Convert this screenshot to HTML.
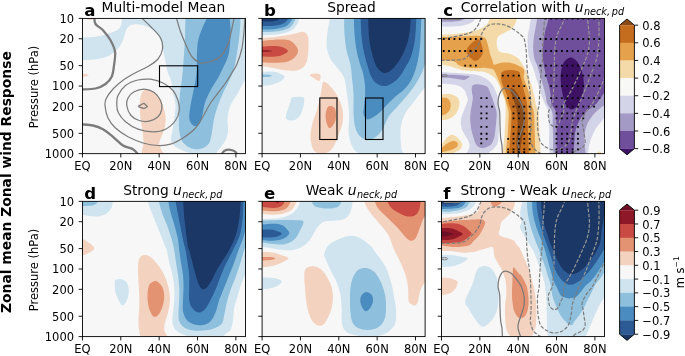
<!DOCTYPE html><html><head><meta charset="utf-8"><title>Zonal mean zonal wind response</title>
<style>html,body{margin:0;padding:0;background:#fff}svg{display:block}text{font-family:"DejaVu Sans","Liberation Sans",sans-serif;fill:#000}</style></head><body>
<svg width="685" height="356" viewBox="0 0 685 356">
<rect width="685" height="356" fill="#fff"/>
<defs>
<clipPath id="cp0"><rect x="82.45" y="18.4" width="163.0" height="135.25"/></clipPath>
<clipPath id="cp1"><rect x="262.1" y="18.4" width="163.0" height="135.25"/></clipPath>
<clipPath id="cp2"><rect x="441.5" y="18.4" width="163.0" height="135.25"/></clipPath>
<clipPath id="cp3"><rect x="82.45" y="201.35" width="163.0" height="135.25"/></clipPath>
<clipPath id="cp4"><rect x="262.1" y="201.35" width="163.0" height="135.25"/></clipPath>
<clipPath id="cp5"><rect x="441.5" y="201.35" width="163.0" height="135.25"/></clipPath>
</defs>
<g clip-path="url(#cp0)">
<rect x="82.45" y="18.4" width="163.0" height="135.25" fill="#f7f7f7"/>
<path d="M79.2 37.8C81.5 37.6 89.0 37.4 93.0 37.0C97.0 36.6 99.7 36.1 103.0 35.2C106.3 34.4 110.5 33.0 113.0 32.0C115.5 31.0 116.7 30.6 118.0 29.5C119.3 28.4 120.2 27.6 121.0 25.2C121.8 22.9 122.2 16.9 122.5 15.2L253.0 15.2L248.0 76.8C247.2 77.9 244.7 80.8 243.0 83.5C241.3 86.2 240.1 89.3 238.0 93.0C235.9 96.7 232.2 101.3 230.5 105.5C228.8 109.7 227.9 113.8 227.5 118.0C227.1 122.2 228.3 126.8 228.0 130.5C227.7 134.2 227.0 137.4 225.5 140.5C224.0 143.6 221.1 146.8 219.2 149.2C217.4 151.8 215.1 154.5 214.2 155.5L198.0 155.5C195.9 154.9 189.2 153.2 185.5 151.8C181.8 150.3 177.9 148.6 175.5 146.8C173.1 144.9 171.5 143.2 171.0 140.5C170.5 137.8 172.0 134.2 172.5 130.5C173.0 126.8 173.8 122.2 174.2 118.0C174.8 113.8 175.7 109.7 175.5 105.5C175.3 101.3 173.8 97.2 173.0 93.0C172.2 88.8 171.9 84.1 171.0 80.5C170.1 76.9 168.5 75.1 167.5 71.5C166.5 67.9 165.8 62.8 165.0 59.0C164.2 55.2 163.6 51.9 163.0 49.0C162.4 46.1 162.2 43.8 161.2 41.5C160.3 39.2 159.1 37.3 157.5 35.2C155.9 33.2 154.0 30.6 151.8 29.0C149.5 27.4 146.8 26.3 144.2 25.5C141.8 24.7 139.0 24.3 136.8 24.2C134.5 24.2 132.2 24.5 130.5 25.2C128.8 26.0 127.8 27.3 126.8 29.0C125.8 30.7 125.2 33.2 124.5 35.2C123.8 37.3 123.4 39.5 122.5 41.5C121.6 43.5 120.5 45.3 119.2 47.0C118.0 48.7 116.7 50.1 115.0 51.5C113.3 52.9 111.7 54.3 109.2 55.5C106.8 56.7 103.6 57.8 100.5 58.5C97.4 59.2 94.0 59.5 90.5 59.8C87.0 60.0 81.1 60.2 79.2 60.2Z" fill="#cfe4ef"/>
<path d="M185.5 15.2C185.4 19.2 185.2 33.0 185.0 39.0C184.8 45.0 184.6 46.7 184.2 51.5C183.9 56.3 183.4 63.2 183.0 68.0C182.6 72.8 182.2 76.3 181.8 80.5C181.2 84.7 180.4 88.8 180.0 93.0C179.6 97.2 179.5 101.3 179.2 105.5C179.0 109.7 178.8 113.8 178.8 118.0C178.8 122.2 178.8 126.8 179.2 130.5C179.8 134.2 180.3 137.8 181.8 140.5C183.2 143.2 185.7 145.3 188.0 146.8C190.3 148.2 193.0 149.0 195.5 149.2C198.0 149.5 200.7 149.0 203.0 148.0C205.3 147.0 207.8 145.5 209.2 143.0C210.7 140.5 210.9 137.2 211.8 133.0C212.6 128.8 213.2 122.6 214.2 118.0C215.3 113.4 216.5 109.7 218.0 105.5C219.5 101.3 221.1 97.2 223.0 93.0C224.9 88.8 227.4 84.7 229.2 80.5C231.1 76.3 232.8 73.7 234.2 68.0C235.7 62.3 237.0 53.0 238.0 46.5C239.0 40.0 239.6 34.2 240.0 29.0C240.4 23.8 240.4 17.5 240.5 15.2Z" fill="#8ebfdc"/>
<path d="M208.5 15.2C207.6 17.1 204.7 22.5 203.0 26.5C201.3 30.5 199.5 34.8 198.5 39.0C197.5 43.2 197.3 46.7 197.0 51.5C196.7 56.3 197.0 63.2 196.8 68.0C196.5 72.8 196.1 76.3 195.5 80.5C194.9 84.7 193.8 88.8 193.0 93.0C192.2 97.2 191.1 101.3 190.5 105.5C189.9 109.7 189.0 114.9 189.2 118.0C189.5 121.1 190.7 122.9 191.8 124.2C192.8 125.6 194.2 126.0 195.5 126.0C196.8 126.0 198.2 125.6 199.2 124.2C200.3 122.9 200.9 121.1 201.8 118.0C202.6 114.9 203.4 108.8 204.2 105.5C205.1 102.2 205.5 100.9 206.8 98.0C208.0 95.1 209.9 91.3 211.8 88.0C213.6 84.7 216.1 81.3 218.0 78.0C219.9 74.7 221.3 71.6 223.0 68.0C224.7 64.4 226.8 60.5 228.0 56.5C229.2 52.5 229.6 48.6 230.0 44.0C230.4 39.4 230.6 33.8 230.5 29.0C230.4 24.2 229.5 17.5 229.2 15.2Z" fill="#4b8cc0"/>
<path d="M145.5 89.2C143.4 89.7 142.0 92.3 141.0 95.0C140.0 97.7 139.8 101.7 139.8 105.5C139.7 109.3 140.0 113.8 140.5 118.0C141.0 122.2 142.0 126.3 142.5 130.5C143.0 134.7 143.4 138.8 143.5 143.0C143.6 147.2 139.7 153.4 143.0 155.5C146.3 157.6 160.4 156.3 163.5 155.5C166.6 154.7 162.5 152.6 161.8 150.5C161.0 148.4 159.0 145.9 159.2 143.0C159.5 140.1 162.0 136.3 163.0 133.0C164.0 129.7 165.2 126.3 165.5 123.0C165.8 119.7 165.8 116.7 165.0 113.0C164.2 109.3 162.9 104.5 161.0 101.0C159.1 97.5 156.1 94.2 153.5 92.2C150.9 90.3 147.6 88.8 145.5 89.2Z" fill="#f3d3bf"/>
<path d="M81.8 74.5C82.4 74.1 84.4 73.9 85.5 74.0C86.6 74.1 88.5 74.8 88.5 75.2C88.5 75.7 86.6 76.3 85.5 76.5C84.4 76.7 82.4 76.8 81.8 76.5C81.1 76.2 81.1 74.9 81.8 74.5Z" fill="#f3d3bf"/>
<path d="M94.2 16.5C94.5 17.8 94.0 21.7 95.5 24.0C97.0 26.3 100.5 27.5 103.0 30.2C105.5 33.0 108.5 36.7 110.5 40.2C112.5 43.8 114.4 47.5 115.0 51.5C115.6 55.5 114.8 59.8 114.2 64.0C113.7 68.2 113.2 73.2 111.8 76.5C110.3 79.8 108.2 82.0 105.5 84.0C102.8 86.0 99.7 87.6 95.5 88.5C91.3 89.4 83.0 89.3 80.5 89.5" fill="none" stroke="#7c7c7c" stroke-width="2.3" stroke-linejoin="round"/>
<path d="M80.5 124.2C82.6 124.5 89.2 124.7 93.0 125.5C96.8 126.3 99.7 127.4 103.0 129.2C106.3 131.1 109.7 134.0 113.0 136.8C116.3 139.5 119.7 143.4 123.0 145.5C126.3 147.6 130.3 147.6 133.0 149.2C135.7 150.9 138.2 154.5 139.2 155.5" fill="none" stroke="#7c7c7c" stroke-width="2.3" stroke-linejoin="round"/>
<path d="M221.0 155.5C221.5 154.8 222.7 152.0 224.2 151.0C225.8 150.0 228.6 149.6 230.5 149.8C232.4 149.9 234.3 150.8 235.5 151.8C236.7 152.7 237.2 154.9 237.5 155.5" fill="none" stroke="#7c7c7c" stroke-width="2.3" stroke-linejoin="round"/>
<path d="M140.0 16.5C141.8 18.2 147.1 23.0 150.5 26.5C153.9 30.0 158.5 34.0 160.5 37.8C162.5 41.5 162.9 45.5 162.5 49.0C162.1 52.5 160.4 56.1 158.0 59.0C155.6 61.9 151.8 64.2 148.0 66.5C144.2 68.8 139.7 70.5 135.5 72.8C131.3 75.0 126.8 77.5 123.0 80.2C119.2 83.0 115.8 85.9 113.0 89.0C110.2 92.1 107.3 96.2 106.0 99.0C104.7 101.8 104.7 102.3 105.0 105.5C105.3 108.7 106.2 114.2 108.0 118.0C109.8 121.8 112.2 124.9 115.5 128.0C118.8 131.1 123.4 134.2 128.0 136.8C132.6 139.2 138.0 141.5 143.0 143.0C148.0 144.5 153.4 145.3 158.0 145.5C162.6 145.7 166.3 145.5 170.5 144.2C174.7 143.0 178.8 140.7 183.0 138.0C187.2 135.3 192.1 131.8 195.5 128.0C198.9 124.2 201.0 119.7 203.5 115.5C206.0 111.3 208.1 106.8 210.5 103.0C212.9 99.2 215.5 96.3 218.0 93.0C220.5 89.7 223.2 86.2 225.5 83.0C227.8 79.8 229.6 76.7 231.5 73.5C233.4 70.3 235.3 68.1 237.0 64.0C238.7 59.9 240.6 54.0 241.8 49.0C242.9 44.0 243.2 39.4 243.8 34.0C244.3 28.6 244.8 19.4 245.0 16.5" fill="none" stroke="#7c7c7c" stroke-width="1.25" stroke-linejoin="round"/>
<path d="M176.0 16.5C176.8 19.0 178.9 26.9 180.5 31.5C182.1 36.1 183.6 39.8 185.5 44.0C187.4 48.2 189.2 53.4 191.8 56.5C194.2 59.6 197.4 61.9 200.5 62.8C203.6 63.6 207.2 62.5 210.5 61.5C213.8 60.5 217.6 59.4 220.5 56.5C223.4 53.6 226.1 48.6 228.0 44.0C229.9 39.4 230.7 33.6 231.8 29.0C232.8 24.4 234.0 18.6 234.5 16.5" fill="none" stroke="#7c7c7c" stroke-width="1.25" stroke-linejoin="round"/>
<path d="M116.8 105.5C116.7 102.6 116.5 98.8 118.0 95.5C119.5 92.2 122.2 88.1 125.5 85.5C128.8 82.9 133.8 81.0 138.0 80.0C142.2 79.0 146.3 78.8 150.5 79.2C154.7 79.8 159.2 81.1 163.0 83.0C166.8 84.9 170.5 87.6 173.0 90.5C175.5 93.4 177.0 97.2 178.0 100.5C179.0 103.8 179.7 107.2 179.2 110.5C178.8 113.8 177.8 117.4 175.5 120.5C173.2 123.6 169.2 127.4 165.5 129.2C161.8 131.1 157.6 131.8 153.0 131.8C148.4 131.8 142.6 130.9 138.0 129.2C133.4 127.6 128.8 124.5 125.5 121.8C122.2 119.0 120.0 115.7 118.5 113.0C117.0 110.3 116.8 108.4 116.8 105.5Z" fill="none" stroke="#7c7c7c" stroke-width="1.25" stroke-linejoin="round"/>
<path d="M126.8 105.5C126.2 102.6 126.8 100.3 128.0 98.0C129.2 95.7 131.5 93.2 134.2 91.8C137.0 90.3 140.9 89.1 144.2 89.2C147.6 89.4 151.5 90.6 154.2 92.5C157.0 94.4 159.2 97.7 160.5 100.5C161.8 103.3 162.2 106.5 161.8 109.2C161.3 112.0 160.1 114.8 158.0 116.8C155.9 118.8 152.4 120.6 149.2 121.2C146.1 121.9 142.3 121.5 139.2 120.5C136.2 119.5 133.1 118.0 131.0 115.5C128.9 113.0 127.2 108.4 126.8 105.5Z" fill="none" stroke="#7c7c7c" stroke-width="1.25" stroke-linejoin="round"/>
<path d="M138.4 106.1L143.9 103.3L147.4 106.5L144.2 108.6L139.6 107.2Z" fill="none" stroke="#7c7c7c" stroke-width="1.25" stroke-linejoin="round"/>
<ellipse cx="90" cy="18.6" rx="3.2" ry="1.3" fill="#f3d3bf"/>
<rect x="159.5" y="65.8" width="38.2" height="20.8" fill="none" stroke="#000" stroke-width="1.1"/>
</g>
<path d="M82.45 153.65v3.8M120.80 153.65v3.8M159.16 153.65v3.8M197.51 153.65v3.8M235.86 153.65v3.8M82.45 18.40h-3.8M82.45 38.76h-3.8M82.45 65.67h-3.8M82.45 86.03h-3.8M82.45 106.38h-3.8M82.45 133.29h-3.8M82.45 153.65h-3.8" stroke="#000" stroke-width="0.9" fill="none"/>
<rect x="82.45" y="18.4" width="163.0" height="135.25" fill="none" stroke="#000" stroke-width="0.9"/>
<text x="82.45" y="169.85" font-size="11.5" text-anchor="middle">EQ</text>
<text x="120.80" y="169.85" font-size="11.5" text-anchor="middle">20N</text>
<text x="159.16" y="169.85" font-size="11.5" text-anchor="middle">40N</text>
<text x="197.51" y="169.85" font-size="11.5" text-anchor="middle">60N</text>
<text x="235.86" y="169.85" font-size="11.5" text-anchor="middle">80N</text>
<text x="74.05" y="22.70" font-size="11.5" text-anchor="end">10</text>
<text x="74.05" y="43.06" font-size="11.5" text-anchor="end">20</text>
<text x="74.05" y="69.97" font-size="11.5" text-anchor="end">50</text>
<text x="74.05" y="90.33" font-size="11.5" text-anchor="end">100</text>
<text x="74.05" y="110.68" font-size="11.5" text-anchor="end">200</text>
<text x="74.05" y="137.59" font-size="11.5" text-anchor="end">500</text>
<text x="74.05" y="157.95" font-size="11.5" text-anchor="end">1000</text>
<text transform="translate(38.0 87.03) rotate(-90)" font-size="11.5" text-anchor="middle">Pressure (hPa)</text>
<g clip-path="url(#cp1)">
<rect x="262.1" y="18.4" width="163.0" height="135.25" fill="#f7f7f7"/>
<path d="M258.0 35.0C260.1 35.0 266.4 35.3 270.6 35.0C274.9 34.7 279.6 34.2 283.3 33.2C287.0 32.3 290.4 31.1 292.8 29.4C295.2 27.7 296.7 25.3 297.8 23.1C298.9 21.0 299.1 17.6 299.4 16.5L258.0 16.5Z" fill="#cfe4ef"/>
<path d="M258.0 31.8C259.9 31.9 265.6 32.1 269.4 32.0C273.2 31.8 277.4 31.4 280.8 30.7C284.1 30.0 287.3 29.1 289.6 27.7C291.9 26.2 293.4 23.7 294.4 21.8C295.4 20.0 295.5 17.4 295.7 16.5L258.0 16.5Z" fill="#8ebfdc"/>
<path d="M258.0 29.3C259.7 29.3 264.7 29.7 268.1 29.6C271.5 29.4 275.2 29.1 278.2 28.5C281.3 28.0 284.3 27.3 286.5 26.0C288.6 24.7 290.1 22.5 291.1 21.0C292.1 19.4 292.2 17.3 292.4 16.5L258.0 16.5Z" fill="#4b8cc0"/>
<path d="M258.0 25.8C259.5 25.8 263.9 26.2 266.9 26.1C269.8 26.1 273.0 26.1 275.7 25.6C278.4 25.2 281.3 24.5 283.3 23.5C285.3 22.5 286.8 20.9 287.7 19.7C288.6 18.5 288.6 17.1 288.7 16.5L258.0 16.5Z" fill="#2b5a94"/>
<path d="M258.0 21.2C259.3 21.3 263.1 21.6 265.6 21.6C268.1 21.6 271.1 21.6 273.2 21.3C275.3 21.1 276.9 20.9 278.2 20.1C279.6 19.3 280.9 17.1 281.4 16.5L258.0 16.5Z" fill="#1b3766"/>
<path d="M258.0 38.3C259.7 38.2 264.7 37.9 268.1 37.6C271.5 37.4 274.9 37.0 278.2 36.5C281.6 36.1 285.2 35.6 288.4 35.0C291.5 34.4 294.9 33.5 297.2 33.0C299.5 32.4 300.8 31.7 302.3 31.7C303.7 31.7 305.0 32.2 306.1 33.2C307.1 34.3 307.9 36.0 308.3 38.0C308.7 40.0 308.5 43.0 308.5 45.2C308.5 47.5 308.5 48.8 308.2 51.5C308.0 54.2 307.6 58.8 306.8 61.5C305.9 64.2 304.9 66.0 303.0 67.5C301.1 69.0 298.8 70.3 295.5 70.8C292.2 71.2 286.8 70.5 283.0 70.0C279.2 69.5 277.0 68.8 273.0 68.0C269.0 67.2 261.5 65.9 259.2 65.5Z" fill="#f3d3bf"/>
<path d="M259.2 41.2C262.4 41.0 273.0 39.7 278.0 39.5C283.0 39.3 286.3 39.3 289.2 40.2C292.2 41.2 294.0 43.5 295.5 45.2C297.0 47.0 298.0 49.1 298.0 51.0C298.0 52.9 297.0 54.8 295.5 56.5C294.0 58.2 292.2 60.0 289.2 61.0C286.3 62.0 283.0 62.6 278.0 62.8C273.0 62.9 262.4 62.1 259.2 62.0Z" fill="#e39272"/>
<path d="M259.2 46.8C261.5 46.6 269.2 46.0 273.0 46.0C276.8 46.0 279.2 46.2 281.8 47.0C284.2 47.8 288.0 49.6 288.0 51.0C288.0 52.4 284.2 54.3 281.8 55.2C279.2 56.2 276.8 56.5 273.0 56.8C269.2 57.0 261.5 56.5 259.2 56.5Z" fill="#c84a42"/>
<path d="M259.2 50.2C260.7 50.2 265.9 50.1 268.0 50.2C270.1 50.4 272.0 50.8 272.0 51.0C272.0 51.2 270.1 51.6 268.0 51.8C265.9 51.9 260.7 51.8 259.2 51.8Z" fill="#8e1728"/>
<path d="M259.2 72.0C261.5 71.9 269.2 71.1 273.0 71.5C276.8 71.9 279.8 73.5 281.8 74.5C283.7 75.5 284.9 76.0 284.5 77.2C284.1 78.5 281.8 80.7 279.2 82.0C276.7 83.3 272.6 84.6 269.2 85.2C265.9 85.9 260.9 85.7 259.2 85.8Z" fill="#cfe4ef"/>
<path d="M259.2 74.8C260.7 74.7 265.9 74.3 268.0 74.5C270.1 74.7 272.0 75.3 272.0 75.8C272.0 76.2 270.1 76.8 268.0 77.0C265.9 77.2 260.7 77.0 259.2 77.0Z" fill="#8ebfdc"/>
<path d="M309.8 74.8C310.2 73.9 315.0 73.4 316.8 73.5C318.5 73.6 320.1 74.0 320.5 75.2C320.9 76.5 320.3 80.5 319.2 81.0C318.2 81.5 315.8 79.5 314.2 78.5C312.7 77.5 309.3 75.6 309.8 74.8Z" fill="#f3d3bf"/>
<path d="M330.5 15.2C330.1 17.5 328.6 25.0 328.0 29.0C327.4 33.0 326.9 35.7 326.8 39.0C326.6 42.3 326.4 45.7 327.0 49.0C327.6 52.3 328.8 55.8 330.5 59.0C332.2 62.2 335.2 64.8 337.5 68.0C339.8 71.2 342.7 73.8 344.2 78.0C345.8 82.2 346.0 88.4 346.8 93.0C347.5 97.6 348.1 101.3 348.5 105.5C348.9 109.7 349.2 113.8 349.2 118.0C349.2 122.2 348.4 126.8 348.5 130.5C348.6 134.2 349.2 137.6 350.0 140.5C350.8 143.4 351.7 145.9 353.0 148.0C354.3 150.1 355.9 151.8 358.0 153.0C360.1 154.2 358.0 155.1 365.5 155.5C373.0 155.9 397.0 156.3 403.0 155.5C409.0 154.7 402.2 153.4 401.8 150.5C401.3 147.6 400.6 142.2 400.5 138.0C400.4 133.8 400.2 129.7 401.0 125.5C401.8 121.3 403.5 116.8 405.5 113.0C407.5 109.2 410.5 106.3 413.0 103.0C415.5 99.7 418.0 96.1 420.5 93.0C423.0 89.9 426.8 85.7 428.0 84.2L430.5 15.2Z" fill="#cfe4ef"/>
<path d="M344.2 15.2C344.2 17.5 344.1 25.0 344.2 29.0C344.4 33.0 344.6 35.2 345.0 39.0C345.4 42.8 345.8 47.2 346.8 51.5C347.7 55.8 349.6 60.2 350.5 65.0C351.4 69.8 351.8 75.8 352.2 80.5C352.8 85.2 353.3 88.8 353.5 93.0C353.7 97.2 353.5 101.3 353.5 105.5C353.5 109.7 353.4 114.2 353.8 118.0C354.1 121.8 354.6 125.1 355.5 128.0C356.4 130.9 357.6 133.6 359.2 135.5C360.9 137.4 363.0 138.8 365.5 139.2C368.0 139.7 371.5 139.5 374.2 138.0C377.0 136.5 379.9 133.0 381.8 130.5C383.6 128.0 384.2 125.5 385.5 123.0C386.8 120.5 387.7 117.8 389.2 115.5C390.8 113.2 393.1 111.3 395.0 109.2C396.9 107.2 398.5 105.2 400.5 103.0C402.5 100.8 404.2 99.1 406.8 96.0C409.2 92.9 413.0 88.1 415.5 84.2C418.0 80.4 420.0 76.8 421.8 73.0C423.5 69.2 424.5 65.1 426.0 61.5C427.5 57.9 429.8 59.2 430.5 51.5C431.2 43.8 430.5 21.3 430.5 15.2Z" fill="#8ebfdc"/>
<path d="M353.8 15.2C353.8 17.5 354.0 25.0 354.2 29.0C354.5 33.0 354.6 35.2 355.0 39.0C355.4 42.8 355.9 47.3 356.8 51.5C357.6 55.7 359.0 60.4 360.0 64.0C361.0 67.6 362.2 69.4 363.0 73.0C363.8 76.6 364.7 81.3 365.0 85.5C365.3 89.7 365.2 94.2 365.0 98.0C364.8 101.8 364.0 105.3 363.8 108.0C363.5 110.7 363.0 112.4 363.5 114.2C364.0 116.1 365.4 118.6 366.8 119.2C368.1 119.9 369.7 119.0 371.8 118.0C373.8 117.0 376.6 115.3 379.2 113.0C381.9 110.7 384.7 107.1 387.5 104.2C390.3 101.4 393.3 98.4 396.0 96.0C398.7 93.6 401.0 92.6 403.5 90.0C406.0 87.4 408.9 84.2 411.0 80.5C413.1 76.8 414.7 72.4 416.0 68.0C417.3 63.6 418.2 58.8 419.0 54.0C419.8 49.2 420.1 45.5 420.5 39.0C420.9 32.5 421.3 19.2 421.5 15.2Z" fill="#4b8cc0"/>
<path d="M360.5 15.2C360.7 19.2 361.0 32.1 361.8 39.0C362.5 45.9 363.9 51.5 365.0 56.5C366.1 61.5 367.5 65.6 368.5 69.0C369.5 72.4 370.0 74.4 371.2 76.8C372.5 79.1 374.0 81.5 376.0 83.0C378.0 84.5 380.6 85.8 383.0 86.0C385.4 86.2 387.9 85.6 390.5 84.2C393.1 82.9 396.1 80.7 398.5 78.0C400.9 75.3 402.9 71.6 405.0 68.0C407.1 64.4 409.3 61.3 411.0 56.5C412.7 51.7 414.1 45.9 415.0 39.0C415.9 32.1 416.2 19.2 416.5 15.2Z" fill="#2b5a94"/>
<path d="M368.0 15.2C368.2 19.2 368.5 32.5 369.2 39.0C370.0 45.5 371.0 49.4 372.2 54.0C373.5 58.6 374.6 63.4 376.5 66.5C378.4 69.6 381.1 72.1 383.5 72.8C385.9 73.4 388.2 72.5 391.0 70.2C393.8 68.0 397.6 63.4 400.2 59.0C402.9 54.6 405.4 49.0 407.0 44.0C408.6 39.0 409.3 33.8 410.0 29.0C410.7 24.2 410.8 17.5 411.0 15.2Z" fill="#1b3766"/>
<path d="M323.5 81.8C322.2 82.2 322.3 85.3 321.8 88.0C321.2 90.7 320.8 94.2 320.0 98.0C319.2 101.8 318.0 106.3 316.8 110.5C315.5 114.7 313.5 118.8 312.5 123.0C311.5 127.2 310.6 131.8 310.5 135.5C310.4 139.2 311.0 142.8 311.8 145.5C312.5 148.2 313.5 150.4 315.0 151.8C316.5 153.1 318.7 153.3 320.5 153.5C322.3 153.7 324.2 153.6 326.0 153.0C327.8 152.4 329.4 151.7 331.0 150.0C332.6 148.3 334.1 145.8 335.5 143.0C336.9 140.2 338.1 136.3 339.2 133.0C340.4 129.7 341.9 126.3 342.5 123.0C343.1 119.7 343.3 116.3 343.0 113.0C342.7 109.7 341.8 106.3 340.5 103.0C339.2 99.7 337.4 96.0 335.5 93.0C333.6 90.0 331.2 86.9 329.2 85.0C327.2 83.1 324.8 81.2 323.5 81.8Z" fill="#f3d3bf"/>
<path d="M329.2 106.0C330.5 105.7 333.1 106.1 334.2 107.5C335.4 108.9 335.9 111.9 336.0 114.2C336.1 116.6 335.9 119.5 335.0 121.8C334.1 124.0 331.8 127.4 330.5 128.0C329.2 128.6 328.3 127.4 327.5 125.5C326.7 123.6 325.6 119.5 325.5 116.8C325.4 114.0 326.1 111.0 326.8 109.2C327.4 107.5 328.0 106.3 329.2 106.0Z" fill="#e39272"/>
<path d="M293.0 97.2C294.8 96.8 299.9 96.4 301.8 96.8C303.6 97.1 304.0 97.4 304.2 99.2C304.5 101.1 303.8 105.1 303.0 108.0C302.2 110.9 300.9 114.7 299.2 116.8C297.6 118.8 295.1 120.1 293.0 120.5C290.9 120.9 287.9 120.1 286.8 119.2C285.6 118.4 285.6 117.8 286.0 115.5C286.4 113.2 288.4 108.2 289.2 105.5C290.1 102.8 290.4 100.6 291.0 99.2C291.6 97.9 291.2 97.7 293.0 97.2Z" fill="#cfe4ef"/>
<rect x="319.8" y="98.0" width="17.2" height="41.5" fill="none" stroke="#000" stroke-width="1.1"/>
<rect x="365.5" y="98.0" width="17.5" height="41.5" fill="none" stroke="#000" stroke-width="1.1"/>
</g>
<path d="M262.10 153.65v3.8M300.45 153.65v3.8M338.81 153.65v3.8M377.16 153.65v3.8M415.51 153.65v3.8M262.10 18.40h-3.8M262.10 38.76h-3.8M262.10 65.67h-3.8M262.10 86.03h-3.8M262.10 106.38h-3.8M262.10 133.29h-3.8M262.10 153.65h-3.8" stroke="#000" stroke-width="0.9" fill="none"/>
<rect x="262.1" y="18.4" width="163.0" height="135.25" fill="none" stroke="#000" stroke-width="0.9"/>
<text x="262.10" y="169.85" font-size="11.5" text-anchor="middle">EQ</text>
<text x="300.45" y="169.85" font-size="11.5" text-anchor="middle">20N</text>
<text x="338.81" y="169.85" font-size="11.5" text-anchor="middle">40N</text>
<text x="377.16" y="169.85" font-size="11.5" text-anchor="middle">60N</text>
<text x="415.51" y="169.85" font-size="11.5" text-anchor="middle">80N</text>
<g clip-path="url(#cp2)">
<rect x="441.5" y="18.4" width="163.0" height="135.25" fill="#f7f7f7"/>
<path d="M438.0 34.9C440.1 34.8 446.4 34.6 450.6 34.2C454.9 33.9 459.1 33.6 463.3 33.0C467.5 32.3 472.4 31.5 475.9 30.4C479.5 29.4 482.7 28.1 484.8 26.6C486.9 25.2 487.6 23.5 488.6 21.6C489.5 19.7 490.2 16.3 490.5 15.3L517.7 15.3C517.3 16.7 516.2 21.8 515.1 24.1C514.1 26.4 513.2 27.7 511.4 29.2C509.5 30.7 506.0 31.7 503.8 33.0C501.6 34.2 499.2 35.3 498.1 36.8C496.9 38.2 496.9 39.9 496.8 41.8C496.7 43.7 496.9 46.5 497.4 48.1C498.0 49.8 498.3 51.1 500.0 51.9C501.7 52.8 505.2 52.6 507.6 53.2C509.9 53.8 512.0 54.8 513.9 55.7C515.8 56.7 517.1 56.8 518.9 59.0C520.8 61.3 523.4 66.0 525.1 69.1C526.7 72.3 527.7 75.0 528.9 78.0C530.0 80.9 531.1 83.7 532.0 86.8C533.0 90.0 533.9 94.1 534.5 96.9C535.2 99.8 535.2 101.5 535.8 104.0C536.4 106.5 537.8 108.6 538.3 112.0C538.9 115.4 538.8 120.4 539.0 124.6C539.2 128.9 539.4 133.5 539.6 137.3C539.8 141.1 540.0 144.4 540.2 147.4C540.4 150.5 540.8 154.3 540.9 155.6L502.2 155.6C502.4 154.5 502.8 151.7 503.1 148.7C503.5 145.6 504.1 141.3 504.4 137.3C504.7 133.3 504.8 128.9 505.0 124.6C505.2 120.4 505.7 116.0 505.7 112.0C505.7 108.0 505.5 103.5 505.0 100.7C504.6 98.0 503.8 97.3 503.1 95.7C502.5 94.1 502.0 93.1 501.2 91.2C500.5 89.4 499.8 86.5 498.7 84.3C497.7 82.1 496.6 79.8 494.9 78.0C493.2 76.2 490.9 74.6 488.6 73.5C486.3 72.5 484.0 72.1 481.0 71.6C478.0 71.2 474.3 71.3 470.9 71.0C467.5 70.7 464.1 70.5 460.8 69.7C457.4 69.0 454.4 67.6 450.6 66.6C446.9 65.6 440.1 64.3 438.0 63.8Z" fill="#f4daa8"/>
<path d="M438.0 37.0C441.2 37.0 450.6 37.0 457.0 36.8C463.3 36.6 471.7 35.8 475.9 35.8C480.2 35.8 480.6 36.2 482.3 36.8C484.0 37.4 485.1 37.8 486.1 39.3C487.0 40.8 487.3 43.3 488.0 45.6C488.6 47.9 489.1 50.7 489.9 53.2C490.6 55.8 491.9 59.0 492.6 60.9C493.4 62.8 492.8 64.4 494.3 64.7C495.7 65.0 498.6 63.1 501.2 62.8C503.9 62.5 507.3 62.4 510.1 62.8C512.8 63.2 515.4 64.2 517.7 65.3C520.0 66.5 523.0 67.6 524.0 69.7C525.0 71.9 523.3 75.1 523.8 78.0C524.3 80.8 525.9 83.7 527.0 86.8C528.0 90.0 529.4 94.1 530.1 96.9C530.9 99.8 530.7 101.5 531.4 104.0C532.0 106.5 533.4 108.6 533.9 112.0C534.4 115.4 534.4 120.4 534.5 124.6C534.7 128.9 534.8 133.5 534.9 137.3C535.0 141.1 535.0 144.4 535.2 147.4C535.3 150.5 535.7 154.3 535.8 155.6L505.7 155.6C505.8 154.5 506.0 151.7 506.3 148.7C506.6 145.6 507.2 141.3 507.6 137.3C507.9 133.3 508.0 128.9 508.2 124.6C508.4 120.4 509.0 116.0 508.6 112.0C508.1 108.0 506.6 104.1 505.7 100.7C504.7 97.4 503.7 94.6 502.8 91.9C501.8 89.1 501.1 86.6 500.2 84.3C499.4 82.0 498.5 80.0 497.7 78.0C496.9 76.0 496.0 73.8 495.2 72.3C494.3 70.8 494.2 69.9 492.6 69.1C491.1 68.4 488.8 68.0 486.1 67.9C483.3 67.7 479.1 68.3 475.9 68.2C472.8 68.2 469.8 68.0 467.1 67.6C464.3 67.2 461.6 66.6 459.5 65.6C457.4 64.6 456.8 62.4 454.4 61.5C452.1 60.6 448.3 60.5 445.6 60.3C442.8 60.0 439.3 60.1 438.0 60.0Z" fill="#e6a14c"/>
<path d="M479.7 39.9C478.8 39.2 477.4 39.3 475.9 39.9C474.5 40.6 472.4 42.1 470.9 43.7C469.4 45.3 467.4 47.6 466.8 49.4C466.3 51.2 467.0 53.0 467.7 54.5C468.4 55.9 469.7 57.2 470.9 58.3C472.0 59.3 473.4 60.6 474.7 60.8C475.9 61.0 477.3 60.4 478.5 59.5C479.6 58.7 480.9 57.2 481.6 55.7C482.4 54.3 482.9 52.6 482.9 50.7C482.9 48.8 482.2 46.1 481.6 44.4C481.1 42.6 480.7 40.7 479.7 39.9Z" fill="#c46d1f"/>
<path d="M501.2 72.9C501.9 72.5 503.3 71.1 505.0 70.6C506.7 70.2 509.0 70.0 511.4 70.1C513.7 70.3 517.5 70.8 518.9 71.6C520.4 72.5 519.5 73.3 520.0 75.0C520.5 76.7 521.5 79.8 522.0 82.0C522.5 84.2 522.6 85.5 523.2 88.0C523.8 90.5 525.1 94.3 525.7 97.0C526.3 99.7 526.7 101.5 527.0 104.0C527.3 106.5 527.4 107.7 527.6 112.0C527.8 116.3 527.9 124.5 528.0 130.0C528.1 135.5 528.3 140.7 528.5 145.0C528.7 149.3 528.9 154.2 529.0 156.0L508.8 155.6C508.9 154.3 509.2 150.5 509.5 147.4C509.7 144.4 510.1 141.1 510.3 137.3C510.6 133.5 510.9 128.9 511.1 124.6C511.3 120.4 511.7 115.4 511.4 112.0C511.0 108.6 509.5 106.5 508.8 104.0C508.2 101.5 508.2 99.2 507.6 96.9C506.9 94.7 505.9 92.7 505.0 90.6C504.2 88.5 503.2 86.4 502.5 84.3C501.8 82.2 501.2 79.0 501.0 78.0Z" fill="#c46d1f"/>
<path d="M510.0 89.5C510.1 91.1 512.0 94.9 513.0 98.0C514.0 101.1 515.2 104.7 516.0 108.0C516.8 111.3 517.2 114.7 517.5 118.0C517.8 121.3 517.7 124.7 517.5 128.0C517.3 131.3 516.7 135.0 516.5 138.0C516.3 141.0 516.3 143.0 516.5 146.0C516.7 149.0 517.0 154.3 517.5 156.0C518.0 157.7 519.0 157.3 519.5 156.0C520.0 154.7 520.1 150.6 520.5 148.0C520.9 145.4 521.2 143.4 521.8 140.5C522.2 137.6 523.0 133.8 523.5 130.5C524.0 127.2 524.9 123.8 525.0 120.5C525.1 117.2 524.9 113.8 524.2 110.5C523.6 107.2 522.4 103.7 521.0 100.5C519.6 97.3 517.4 93.5 516.0 91.5C514.6 89.5 513.5 88.8 512.5 88.5C511.5 88.2 509.9 87.9 510.0 89.5Z" fill="#8b4b18"/>
<path d="M438.0 95.0C440.1 94.9 447.2 93.8 450.5 94.2C453.8 94.8 456.5 96.1 458.0 98.0C459.5 99.9 459.7 102.8 459.2 105.5C458.8 108.2 457.4 112.0 455.5 114.2C453.6 116.5 450.9 118.2 448.0 119.2C445.1 120.3 439.7 120.3 438.0 120.5Z" fill="#f4daa8"/>
<path d="M438.0 98.5C439.5 98.4 444.7 97.2 446.8 98.0C448.8 98.8 450.0 101.1 450.5 103.0C451.0 104.9 450.8 107.4 450.0 109.2C449.2 111.1 447.5 113.2 445.5 114.2C443.5 115.3 439.2 115.3 438.0 115.5Z" fill="#e6a14c"/>
<path d="M438.0 146.8C438.6 146.4 440.4 145.6 441.5 144.5C442.7 143.4 443.9 141.3 445.1 139.9C446.2 138.6 447.2 137.1 448.4 136.3C449.5 135.4 450.5 134.6 451.9 134.8C453.3 134.9 455.4 136.0 457.0 137.3C458.6 138.6 460.6 140.9 461.4 142.4C462.2 143.8 462.3 144.9 462.0 146.1C461.7 147.4 460.8 148.9 459.5 149.9C458.2 151.0 455.9 151.5 454.4 152.5C453.0 153.4 451.3 155.1 450.6 155.6L438.0 155.6Z" fill="#f4daa8"/>
<path d="M438.0 149.9C438.6 149.7 440.3 149.2 441.5 148.3C442.8 147.4 444.2 145.7 445.6 144.6C447.0 143.6 448.6 142.7 450.0 142.1C451.4 141.5 452.5 140.9 453.8 141.1C455.1 141.2 457.1 142.0 457.6 143.0C458.1 143.9 457.9 145.7 457.0 146.8C456.0 147.9 454.0 148.9 451.9 149.7C449.8 150.5 446.6 151.2 444.3 151.7C442.0 152.2 439.1 152.3 438.0 152.5Z" fill="#e6a14c"/>
<path d="M597.1 152.7C597.5 152.2 598.7 151.3 599.4 151.5C600.2 151.6 602.0 153.3 601.6 153.7C601.2 154.2 597.9 154.5 597.1 154.4C596.4 154.2 596.8 153.2 597.1 152.7Z" fill="#f4daa8"/>
<path d="M438.0 26.4C440.1 26.4 446.4 26.8 450.6 26.6C454.9 26.5 459.7 26.1 463.3 25.4C466.9 24.6 469.8 23.7 472.1 22.2C474.5 20.7 476.6 17.5 477.5 16.5L438.0 16.5Z" fill="#d4d4e8"/>
<path d="M438.0 21.7C439.7 21.7 445.0 21.9 448.1 21.8C451.3 21.8 454.4 21.5 457.0 21.2C459.5 20.9 461.4 20.6 463.3 19.8C465.1 19.0 467.3 17.1 468.1 16.5L438.0 16.5Z" fill="#a39bc5"/>
<path d="M438.0 72.3C440.1 72.3 446.4 72.4 450.6 72.7C454.9 72.9 459.1 73.2 463.3 73.5C467.5 73.9 472.4 74.1 475.9 74.8C479.5 75.5 482.3 76.6 484.8 78.0C487.3 79.3 489.4 81.1 491.1 83.0C492.8 84.9 493.9 87.2 494.9 89.4C496.0 91.5 496.9 93.6 497.4 95.7C498.0 97.8 498.1 99.3 498.5 102.0C498.8 104.7 499.3 108.2 499.3 112.0C499.4 115.8 499.1 120.4 499.0 124.6C498.8 128.9 498.7 134.1 498.5 137.3C498.2 140.5 498.2 141.7 497.4 143.6C496.6 145.5 494.9 147.3 493.6 148.7C492.4 150.0 490.8 150.7 489.9 151.8C488.9 153.0 488.3 155.0 488.0 155.6L464.8 155.6C465.4 154.7 467.6 151.7 468.4 149.9C469.2 148.1 469.8 146.8 469.6 144.9C469.4 143.0 468.2 140.9 467.1 138.6C465.9 136.2 463.7 133.5 462.7 131.0C461.6 128.4 461.0 125.7 460.8 123.4C460.6 121.1 461.0 119.0 461.4 117.1C461.8 115.2 462.2 114.7 463.3 112.0C464.3 109.3 467.1 103.2 467.7 100.7C468.4 98.2 467.6 98.6 467.1 96.9C466.6 95.3 465.8 92.4 464.6 90.6C463.3 88.8 461.8 87.2 459.5 86.2C457.2 85.1 454.2 84.7 450.6 84.3C447.1 83.9 440.1 83.8 438.0 83.7Z" fill="#d4d4e8"/>
<path d="M438.0 74.8C440.1 74.8 446.4 74.7 450.6 74.8C454.9 74.9 460.1 75.2 463.3 75.4C466.5 75.7 469.0 75.5 469.6 76.1C470.2 76.6 468.1 78.0 467.1 78.6C466.0 79.2 466.0 80.0 463.3 79.9C460.6 79.8 454.9 78.4 450.6 78.0C446.4 77.5 440.1 77.4 438.0 77.3Z" fill="#a39bc5"/>
<path d="M475.9 84.3C474.3 84.5 472.8 84.9 472.1 86.2C471.5 87.5 471.8 89.9 471.9 91.9C472.0 93.9 473.0 94.9 472.8 98.2C472.6 101.6 471.1 108.4 470.6 112.0C470.2 115.6 470.2 116.8 470.2 119.6C470.3 122.3 470.6 125.5 471.1 128.4C471.7 131.4 472.6 134.7 473.4 137.3C474.2 139.9 474.7 142.5 475.9 144.2C477.2 146.0 479.1 147.6 481.0 148.0C482.9 148.5 485.5 147.5 487.3 146.8C489.1 146.0 490.6 145.2 491.7 143.6C492.9 142.0 493.6 139.8 494.3 137.3C494.9 134.8 495.2 131.4 495.5 128.4C495.9 125.5 496.3 122.3 496.4 119.6C496.6 116.8 497.0 114.9 496.6 112.0C496.1 109.1 494.3 104.3 493.6 102.0C493.0 99.7 493.0 99.9 492.4 98.2C491.7 96.5 490.7 93.8 489.9 91.9C489.0 90.0 488.6 88.0 487.3 86.8C486.1 85.7 484.2 85.3 482.3 84.9C480.4 84.5 477.6 84.1 475.9 84.3Z" fill="#a39bc5"/>
<path d="M531.4 15.3C531.1 17.2 530.1 23.3 529.5 26.6C528.9 30.0 528.2 32.8 527.8 35.5C527.5 38.2 527.5 40.3 527.6 43.1C527.7 45.8 527.9 49.3 528.2 51.9C528.5 54.6 528.7 56.6 529.5 59.0C530.2 61.5 531.6 63.6 532.6 66.6C533.7 69.5 534.8 73.3 535.8 76.7C536.9 80.1 537.9 83.5 539.0 86.8C540.0 90.2 541.1 94.1 542.1 96.9C543.1 99.8 544.0 101.5 545.0 104.0C546.1 106.5 547.8 109.0 548.5 112.0C549.1 115.0 548.7 118.7 548.8 122.1C549.0 125.5 549.3 128.9 549.3 132.2C549.4 135.6 549.0 138.5 549.1 142.4C549.2 146.3 549.6 153.4 549.7 155.6L587.7 156.0C587.8 155.0 588.0 152.1 588.3 150.0C588.6 147.9 589.0 145.9 589.6 143.6C590.2 141.3 591.1 138.5 592.1 136.0C593.1 133.5 594.4 130.7 595.9 128.4C597.4 126.1 599.0 124.4 600.9 122.1C602.8 119.8 606.0 115.8 607.0 114.5L607.0 10.0Z" fill="#d4d4e8"/>
<path d="M537.7 15.3C537.4 17.2 536.4 23.3 535.8 26.6C535.2 30.0 534.6 32.8 534.2 35.5C533.7 38.2 533.4 40.6 533.3 43.1C533.1 45.6 533.1 48.0 533.3 50.7C533.5 53.3 533.9 56.6 534.5 59.0C535.2 61.5 536.1 62.6 537.1 65.3C538.0 68.1 539.2 71.9 540.2 75.4C541.3 79.0 542.4 83.2 543.4 86.8C544.3 90.4 545.3 94.1 545.9 96.9C546.6 99.8 546.1 101.5 547.2 104.0C548.2 106.5 551.3 108.6 552.2 112.0C553.2 115.4 552.5 120.4 552.6 124.6C552.8 128.9 553.1 133.3 553.1 137.3C553.2 141.3 553.0 145.6 553.1 148.7C553.3 151.7 554.0 154.5 554.1 155.6L585.8 155.6C585.7 154.5 585.3 150.9 585.1 148.7C584.9 146.5 584.6 144.9 584.5 142.4C584.4 139.8 584.3 136.5 584.8 133.5C585.2 130.5 586.0 127.2 587.0 124.6C588.0 122.1 589.3 120.4 590.8 118.3C592.3 116.2 593.2 114.6 595.9 112.0C598.6 109.4 605.1 104.5 607.0 103.0L607.0 10.0Z" fill="#a39bc5"/>
<path d="M438.0 39.7C440.1 39.3 446.4 38.2 450.6 37.4C454.9 36.6 459.7 35.8 463.3 34.9C466.9 33.9 469.8 33.1 472.1 31.7C474.5 30.3 475.9 28.3 477.2 26.6C478.5 25.0 479.0 23.3 479.7 21.6C480.5 19.9 481.3 17.4 481.6 16.5" fill="none" stroke="#7c7c7c" stroke-width="1.18" stroke-dasharray="3.7 1.6" stroke-linejoin="round"/>
<path d="M441.0 60.3C442.8 60.3 448.3 60.4 452.0 60.2C455.7 60.0 460.4 60.0 463.3 59.0C466.2 58.1 467.5 56.3 469.6 54.5C471.7 52.7 474.3 50.3 475.9 48.1C477.6 46.0 478.8 44.1 479.7 41.8C480.7 39.5 480.8 36.4 481.6 34.2C482.5 32.0 483.4 30.1 484.8 28.5C486.2 27.0 488.0 25.5 489.9 24.7C491.7 24.0 493.9 23.9 496.2 23.9C498.5 23.9 501.2 24.1 503.8 24.7C506.3 25.4 509.0 26.6 511.4 27.9C513.7 29.2 516.2 31.3 517.7 32.3C519.1 33.4 519.0 33.3 520.0 34.2C521.0 35.2 522.9 36.3 523.8 38.0C524.7 39.7 524.9 42.0 525.3 44.4C525.7 46.7 526.1 49.5 526.3 51.9C526.5 54.4 526.5 56.6 526.6 59.0C526.7 61.5 526.7 63.9 527.0 66.6C527.2 69.3 527.5 72.5 527.8 75.4C528.2 78.4 528.7 81.3 529.1 84.3C529.5 87.2 529.8 89.9 530.1 93.1C530.4 96.4 530.6 99.2 530.7 104.0C530.9 108.9 531.1 117.4 531.1 122.1C531.1 126.8 530.9 129.6 530.7 132.2C530.6 134.8 530.2 136.1 530.2 137.8C530.3 139.4 530.6 140.5 531.1 142.2C531.6 143.9 532.4 146.3 533.3 147.7C534.3 149.2 535.4 150.1 536.7 151.1C538.0 152.1 540.4 153.4 541.1 153.9" fill="none" stroke="#7c7c7c" stroke-width="1.18" stroke-dasharray="3.7 1.6" stroke-linejoin="round"/>
<path d="M544.7 16.5C544.6 18.2 544.3 22.9 544.0 26.6C543.8 30.4 543.3 35.1 543.0 39.3C542.8 43.5 542.6 48.7 542.5 51.9C542.4 55.2 542.6 56.6 542.5 59.0C542.4 61.4 542.0 63.8 541.8 66.6C541.5 69.3 541.1 72.5 540.9 75.4C540.6 78.4 540.4 81.3 540.2 84.3C540.0 87.2 539.8 89.9 539.6 93.1C539.4 96.4 539.5 100.9 539.2 104.0C538.9 107.2 538.0 109.0 537.7 112.0C537.4 115.0 537.4 118.9 537.5 122.1C537.5 125.3 537.8 128.7 538.0 131.1C538.2 133.5 538.5 134.8 538.9 136.6C539.3 138.5 539.6 140.6 540.5 142.2C541.5 143.8 542.9 144.9 544.4 146.1C546.0 147.2 548.1 148.4 550.0 149.1C551.8 149.7 553.7 150.0 555.5 150.0C557.4 149.9 559.4 149.4 561.1 148.6C562.7 147.9 564.2 146.8 565.5 145.5C566.8 144.3 568.0 142.9 568.8 141.1C569.7 139.2 570.0 136.6 570.5 134.4C571.0 132.2 571.3 130.2 571.6 127.8C572.0 125.4 572.1 122.6 572.7 120.0C573.4 117.4 574.6 114.7 575.6 112.0C576.7 109.3 577.8 106.5 578.8 104.0C579.9 101.5 580.8 99.6 582.0 96.9C583.1 94.3 584.5 91.2 585.8 88.1C587.0 84.9 588.3 81.3 589.6 78.0C590.8 74.6 592.2 71.0 593.4 67.9C594.5 64.7 595.8 61.7 596.5 59.0C597.3 56.3 597.4 54.6 597.8 51.9C598.1 49.3 598.5 45.8 598.7 43.1C598.9 40.3 599.0 38.2 599.0 35.5C599.1 32.8 599.1 29.8 599.0 26.6C599.0 23.5 598.7 18.2 598.7 16.5" fill="none" stroke="#7c7c7c" stroke-width="1.18" stroke-dasharray="3.7 1.6" stroke-linejoin="round"/>
<path d="M565.5 16.5C564.9 18.0 563.0 22.6 561.7 25.4C560.5 28.1 558.9 30.4 557.9 33.0C557.0 35.5 556.3 37.8 555.8 40.6C555.3 43.3 555.0 46.3 554.8 49.4C554.5 52.5 554.5 55.3 554.4 59.0C554.3 62.7 554.2 67.4 554.1 71.6C554.1 75.9 554.1 80.1 553.9 84.3C553.7 88.5 553.4 93.7 553.1 96.9C552.9 100.2 553.0 101.5 552.2 104.0C551.5 106.5 549.0 109.3 548.5 112.0C547.9 114.7 548.5 117.9 548.9 120.0C549.2 122.1 549.7 123.3 550.5 124.4C551.4 125.5 552.8 126.5 553.9 126.7C555.0 126.8 556.3 126.3 557.2 125.5C558.1 124.8 558.9 123.1 559.4 122.2C559.9 121.3 559.3 121.7 560.0 120.0C560.7 118.3 563.0 114.7 563.6 112.0C564.2 109.3 563.1 106.3 563.6 104.0C564.2 101.7 565.4 100.7 566.8 98.2C568.2 95.8 570.2 92.5 571.9 89.4C573.5 86.2 575.2 82.8 576.9 79.2C578.6 75.7 580.5 71.2 582.0 67.9C583.4 64.5 584.7 61.9 585.8 59.0C586.8 56.1 587.7 53.3 588.3 50.7C588.9 48.0 589.1 45.6 589.3 43.1C589.5 40.6 589.5 38.2 589.3 35.5C589.1 32.8 588.6 29.8 588.3 26.6C588.0 23.5 587.6 18.2 587.4 16.5" fill="none" stroke="#7c7c7c" stroke-width="1.18" stroke-dasharray="3.7 1.6" stroke-linejoin="round"/>
<path d="M607.3 71.6C606.8 72.7 605.5 75.4 604.5 78.0C603.4 80.5 602.4 83.7 600.9 86.8C599.5 90.0 597.4 94.1 595.9 96.9C594.4 99.8 593.7 101.5 592.1 104.0C590.4 106.5 587.7 109.3 586.0 112.0C584.3 114.7 582.7 117.6 582.2 120.0C581.7 122.4 582.7 124.3 583.1 126.7C583.4 129.1 583.8 131.8 584.2 134.4C584.5 137.0 585.3 140.2 585.2 142.2C585.0 144.2 584.1 145.5 583.3 146.6C582.4 147.8 581.2 148.3 579.9 149.1C578.6 149.8 576.7 150.3 575.5 151.1C574.3 151.9 573.2 153.4 572.7 153.9" fill="none" stroke="#7c7c7c" stroke-width="1.18" stroke-dasharray="3.7 1.6" stroke-linejoin="round"/>
<path d="M502.5 155.6C502.4 153.8 502.2 147.9 501.9 144.9C501.6 141.8 500.9 140.7 500.6 137.3C500.3 133.9 500.1 128.9 500.0 124.6C499.8 120.4 500.0 115.4 499.7 112.0C499.4 108.6 498.2 106.5 498.1 104.0C497.9 101.5 498.3 99.0 498.7 96.9C499.1 94.9 499.9 93.3 500.6 91.9C501.3 90.5 502.1 89.3 503.1 88.7C504.2 88.1 505.6 88.0 506.9 88.3C508.3 88.7 510.0 89.6 511.4 90.6C512.7 91.6 513.9 92.9 515.1 94.4C516.4 95.9 517.9 97.9 518.9 99.5C520.0 101.1 520.6 101.8 521.5 104.0C522.3 106.3 523.6 110.0 524.0 113.0C524.4 116.0 524.4 119.0 524.0 122.0C523.6 125.0 522.3 128.2 521.5 131.0C520.6 133.7 519.5 136.5 518.9 138.6C518.4 140.7 517.9 141.9 517.9 143.6C517.9 145.3 518.4 146.7 518.9 148.7C519.5 150.7 521.0 154.5 521.5 155.6" fill="none" stroke="#7a7a7a" stroke-width="1.25" stroke-linejoin="round"/>
<ellipse cx="444.4" cy="75.7" rx="3.3" ry="1.1" fill="none" stroke="#808080" stroke-width="1"/>
<path d="M443.5 19.5h17" stroke="#808080" stroke-width="1" fill="none"/>
<path d="M549.1 15.3C548.8 16.7 547.8 21.6 547.2 24.1C546.6 26.6 545.8 28.1 545.3 30.4C544.8 32.8 544.4 35.5 544.0 38.0C543.6 40.6 543.2 43.3 543.0 45.6C542.8 47.9 542.8 49.7 542.8 51.9C542.8 54.2 542.8 56.6 543.0 59.0C543.2 61.5 543.5 63.9 544.0 66.6C544.5 69.3 545.2 72.5 545.9 75.4C546.7 78.4 547.7 81.3 548.5 84.3C549.2 87.2 549.8 89.9 550.4 93.1C550.9 96.4 550.7 100.9 551.6 104.0C552.6 107.2 555.2 108.6 556.0 112.0C556.8 115.4 556.3 120.4 556.4 124.6C556.5 128.9 556.6 133.3 556.7 137.3C556.7 141.3 556.5 145.6 556.7 148.7C556.9 151.7 557.7 154.5 557.9 155.6L573.1 155.6C573.2 154.5 573.5 151.1 573.7 148.7C574.0 146.3 574.2 143.6 574.4 141.1C574.6 138.6 574.6 136.0 575.0 133.5C575.4 131.0 576.0 128.4 576.9 125.9C577.9 123.4 579.2 120.6 580.7 118.3C582.2 116.0 583.2 114.4 585.8 112.0C588.3 109.6 593.8 105.9 595.9 104.0C598.0 102.1 597.4 102.1 598.4 100.7C599.5 99.3 600.7 97.7 602.2 95.7C603.7 93.7 606.4 89.9 607.3 88.7L607.0 10.0Z" fill="#6f4e9c"/>
<path d="M570.6 57.6C569.0 57.6 567.3 58.9 566.0 60.0C564.7 61.1 563.8 62.1 563.0 64.0C562.2 65.9 561.5 68.8 561.1 71.6C560.7 74.3 560.6 77.5 560.7 80.5C560.8 83.5 561.2 86.5 561.7 89.4C562.2 92.4 562.9 95.6 563.6 98.2C564.3 100.8 564.8 103.1 566.0 105.0C567.2 106.9 569.3 109.1 571.0 109.5C572.7 109.9 574.6 108.4 576.0 107.5C577.4 106.6 578.6 105.3 579.4 104.0C580.2 102.7 580.1 101.5 580.7 99.5C581.3 97.5 582.7 94.7 583.2 91.9C583.7 89.2 584.0 86.0 583.9 83.0C583.8 80.0 583.4 77.2 582.6 74.2C581.9 71.2 580.6 67.7 579.4 65.3C578.2 62.9 577.0 61.3 575.5 60.0C574.0 58.7 572.2 57.6 570.6 57.6Z" fill="#3d1265"/>
<clipPath id="lc2"><path d="M549.1 15.3C548.8 16.7 547.8 21.6 547.2 24.1C546.6 26.6 545.8 28.1 545.3 30.4C544.8 32.8 544.4 35.5 544.0 38.0C543.6 40.6 543.2 43.3 543.0 45.6C542.8 47.9 542.8 49.7 542.8 51.9C542.8 54.2 542.8 56.6 543.0 59.0C543.2 61.5 543.5 63.9 544.0 66.6C544.5 69.3 545.2 72.5 545.9 75.4C546.7 78.4 547.7 81.3 548.5 84.3C549.2 87.2 549.8 89.9 550.4 93.1C550.9 96.4 550.7 100.9 551.6 104.0C552.6 107.2 555.2 108.6 556.0 112.0C556.8 115.4 556.3 120.4 556.4 124.6C556.5 128.9 556.6 133.3 556.7 137.3C556.7 141.3 556.5 145.6 556.7 148.7C556.9 151.7 557.7 154.5 557.9 155.6L573.1 155.6C573.2 154.5 573.5 151.1 573.7 148.7C574.0 146.3 574.2 143.6 574.4 141.1C574.6 138.6 574.6 136.0 575.0 133.5C575.4 131.0 576.0 128.4 576.9 125.9C577.9 123.4 579.2 120.6 580.7 118.3C582.2 116.0 583.2 114.4 585.8 112.0C588.3 109.6 593.8 105.9 595.9 104.0C598.0 102.1 597.4 102.1 598.4 100.7C599.5 99.3 600.7 97.7 602.2 95.7C603.7 93.7 606.4 89.9 607.3 88.7L607.0 10.0Z"/></clipPath>
<g clip-path="url(#lc2)">
<path d="M441.0 60.3C442.8 60.3 448.3 60.4 452.0 60.2C455.7 60.0 460.4 60.0 463.3 59.0C466.2 58.1 467.5 56.3 469.6 54.5C471.7 52.7 474.3 50.3 475.9 48.1C477.6 46.0 478.8 44.1 479.7 41.8C480.7 39.5 480.8 36.4 481.6 34.2C482.5 32.0 483.4 30.1 484.8 28.5C486.2 27.0 488.0 25.5 489.9 24.7C491.7 24.0 493.9 23.9 496.2 23.9C498.5 23.9 501.2 24.1 503.8 24.7C506.3 25.4 509.0 26.6 511.4 27.9C513.7 29.2 516.2 31.3 517.7 32.3C519.1 33.4 519.0 33.3 520.0 34.2C521.0 35.2 522.9 36.3 523.8 38.0C524.7 39.7 524.9 42.0 525.3 44.4C525.7 46.7 526.1 49.5 526.3 51.9C526.5 54.4 526.5 56.6 526.6 59.0C526.7 61.5 526.7 63.9 527.0 66.6C527.2 69.3 527.5 72.5 527.8 75.4C528.2 78.4 528.7 81.3 529.1 84.3C529.5 87.2 529.8 89.9 530.1 93.1C530.4 96.4 530.6 99.2 530.7 104.0C530.9 108.9 531.1 117.4 531.1 122.1C531.1 126.8 530.9 129.6 530.7 132.2C530.6 134.8 530.2 136.1 530.2 137.8C530.3 139.4 530.6 140.5 531.1 142.2C531.6 143.9 532.4 146.3 533.3 147.7C534.3 149.2 535.4 150.1 536.7 151.1C538.0 152.1 540.4 153.4 541.1 153.9" fill="none" stroke="#9b9a94" stroke-width="1.15" stroke-dasharray="3.7 1.6" stroke-linejoin="round"/>
<path d="M544.7 16.5C544.6 18.2 544.3 22.9 544.0 26.6C543.8 30.4 543.3 35.1 543.0 39.3C542.8 43.5 542.6 48.7 542.5 51.9C542.4 55.2 542.6 56.6 542.5 59.0C542.4 61.4 542.0 63.8 541.8 66.6C541.5 69.3 541.1 72.5 540.9 75.4C540.6 78.4 540.4 81.3 540.2 84.3C540.0 87.2 539.8 89.9 539.6 93.1C539.4 96.4 539.5 100.9 539.2 104.0C538.9 107.2 538.0 109.0 537.7 112.0C537.4 115.0 537.4 118.9 537.5 122.1C537.5 125.3 537.8 128.7 538.0 131.1C538.2 133.5 538.5 134.8 538.9 136.6C539.3 138.5 539.6 140.6 540.5 142.2C541.5 143.8 542.9 144.9 544.4 146.1C546.0 147.2 548.1 148.4 550.0 149.1C551.8 149.7 553.7 150.0 555.5 150.0C557.4 149.9 559.4 149.4 561.1 148.6C562.7 147.9 564.2 146.8 565.5 145.5C566.8 144.3 568.0 142.9 568.8 141.1C569.7 139.2 570.0 136.6 570.5 134.4C571.0 132.2 571.3 130.2 571.6 127.8C572.0 125.4 572.1 122.6 572.7 120.0C573.4 117.4 574.6 114.7 575.6 112.0C576.7 109.3 577.8 106.5 578.8 104.0C579.9 101.5 580.8 99.6 582.0 96.9C583.1 94.3 584.5 91.2 585.8 88.1C587.0 84.9 588.3 81.3 589.6 78.0C590.8 74.6 592.2 71.0 593.4 67.9C594.5 64.7 595.8 61.7 596.5 59.0C597.3 56.3 597.4 54.6 597.8 51.9C598.1 49.3 598.5 45.8 598.7 43.1C598.9 40.3 599.0 38.2 599.0 35.5C599.1 32.8 599.1 29.8 599.0 26.6C599.0 23.5 598.7 18.2 598.7 16.5" fill="none" stroke="#9b9a94" stroke-width="1.15" stroke-dasharray="3.7 1.6" stroke-linejoin="round"/>
<path d="M565.5 16.5C564.9 18.0 563.0 22.6 561.7 25.4C560.5 28.1 558.9 30.4 557.9 33.0C557.0 35.5 556.3 37.8 555.8 40.6C555.3 43.3 555.0 46.3 554.8 49.4C554.5 52.5 554.5 55.3 554.4 59.0C554.3 62.7 554.2 67.4 554.1 71.6C554.1 75.9 554.1 80.1 553.9 84.3C553.7 88.5 553.4 93.7 553.1 96.9C552.9 100.2 553.0 101.5 552.2 104.0C551.5 106.5 549.0 109.3 548.5 112.0C547.9 114.7 548.5 117.9 548.9 120.0C549.2 122.1 549.7 123.3 550.5 124.4C551.4 125.5 552.8 126.5 553.9 126.7C555.0 126.8 556.3 126.3 557.2 125.5C558.1 124.8 558.9 123.1 559.4 122.2C559.9 121.3 559.3 121.7 560.0 120.0C560.7 118.3 563.0 114.7 563.6 112.0C564.2 109.3 563.1 106.3 563.6 104.0C564.2 101.7 565.4 100.7 566.8 98.2C568.2 95.8 570.2 92.5 571.9 89.4C573.5 86.2 575.2 82.8 576.9 79.2C578.6 75.7 580.5 71.2 582.0 67.9C583.4 64.5 584.7 61.9 585.8 59.0C586.8 56.1 587.7 53.3 588.3 50.7C588.9 48.0 589.1 45.6 589.3 43.1C589.5 40.6 589.5 38.2 589.3 35.5C589.1 32.8 588.6 29.8 588.3 26.6C588.0 23.5 587.6 18.2 587.4 16.5" fill="none" stroke="#9b9a94" stroke-width="1.15" stroke-dasharray="3.7 1.6" stroke-linejoin="round"/>
<path d="M607.3 71.6C606.8 72.7 605.5 75.4 604.5 78.0C603.4 80.5 602.4 83.7 600.9 86.8C599.5 90.0 597.4 94.1 595.9 96.9C594.4 99.8 593.7 101.5 592.1 104.0C590.4 106.5 587.7 109.3 586.0 112.0C584.3 114.7 582.7 117.6 582.2 120.0C581.7 122.4 582.7 124.3 583.1 126.7C583.4 129.1 583.8 131.8 584.2 134.4C584.5 137.0 585.3 140.2 585.2 142.2C585.0 144.2 584.1 145.5 583.3 146.6C582.4 147.8 581.2 148.3 579.9 149.1C578.6 149.8 576.7 150.3 575.5 151.1C574.3 151.9 573.2 153.4 572.7 153.9" fill="none" stroke="#9b9a94" stroke-width="1.15" stroke-dasharray="3.7 1.6" stroke-linejoin="round"/>
</g>
<path d="M544.83 17.70h1.8v1.8h-1.8zM550.20 17.70h1.8v1.8h-1.8zM555.57 17.70h1.8v1.8h-1.8zM560.94 17.70h1.8v1.8h-1.8zM566.31 17.70h1.8v1.8h-1.8zM571.68 17.70h1.8v1.8h-1.8zM577.05 17.70h1.8v1.8h-1.8zM582.42 17.70h1.8v1.8h-1.8zM587.79 17.70h1.8v1.8h-1.8zM593.16 17.70h1.8v1.8h-1.8zM598.53 17.70h1.8v1.8h-1.8zM442.80 38.10h1.8v1.8h-1.8zM448.17 38.10h1.8v1.8h-1.8zM453.54 38.10h1.8v1.8h-1.8zM458.91 38.10h1.8v1.8h-1.8zM464.28 38.10h1.8v1.8h-1.8zM469.65 38.10h1.8v1.8h-1.8zM475.02 38.10h1.8v1.8h-1.8zM480.39 38.10h1.8v1.8h-1.8zM539.46 38.10h1.8v1.8h-1.8zM544.83 38.10h1.8v1.8h-1.8zM550.20 38.10h1.8v1.8h-1.8zM555.57 38.10h1.8v1.8h-1.8zM560.94 38.10h1.8v1.8h-1.8zM566.31 38.10h1.8v1.8h-1.8zM571.68 38.10h1.8v1.8h-1.8zM577.05 38.10h1.8v1.8h-1.8zM582.42 38.10h1.8v1.8h-1.8zM587.79 38.10h1.8v1.8h-1.8zM593.16 38.10h1.8v1.8h-1.8zM598.53 38.10h1.8v1.8h-1.8zM442.80 50.10h1.8v1.8h-1.8zM448.17 50.10h1.8v1.8h-1.8zM453.54 50.10h1.8v1.8h-1.8zM458.91 50.10h1.8v1.8h-1.8zM464.28 50.10h1.8v1.8h-1.8zM469.65 50.10h1.8v1.8h-1.8zM475.02 50.10h1.8v1.8h-1.8zM480.39 50.10h1.8v1.8h-1.8zM539.46 50.10h1.8v1.8h-1.8zM544.83 50.10h1.8v1.8h-1.8zM550.20 50.10h1.8v1.8h-1.8zM555.57 50.10h1.8v1.8h-1.8zM560.94 50.10h1.8v1.8h-1.8zM566.31 50.10h1.8v1.8h-1.8zM571.68 50.10h1.8v1.8h-1.8zM577.05 50.10h1.8v1.8h-1.8zM582.42 50.10h1.8v1.8h-1.8zM587.79 50.10h1.8v1.8h-1.8zM593.16 50.10h1.8v1.8h-1.8zM598.53 50.10h1.8v1.8h-1.8zM464.28 64.80h1.8v1.8h-1.8zM469.65 64.80h1.8v1.8h-1.8zM475.02 64.80h1.8v1.8h-1.8zM539.46 64.80h1.8v1.8h-1.8zM544.83 64.80h1.8v1.8h-1.8zM550.20 64.80h1.8v1.8h-1.8zM555.57 64.80h1.8v1.8h-1.8zM560.94 64.80h1.8v1.8h-1.8zM566.31 64.80h1.8v1.8h-1.8zM571.68 64.80h1.8v1.8h-1.8zM577.05 64.80h1.8v1.8h-1.8zM582.42 64.80h1.8v1.8h-1.8zM587.79 64.80h1.8v1.8h-1.8zM593.16 64.80h1.8v1.8h-1.8zM598.53 64.80h1.8v1.8h-1.8zM501.87 74.80h1.8v1.8h-1.8zM507.24 74.80h1.8v1.8h-1.8zM512.61 74.80h1.8v1.8h-1.8zM517.98 74.80h1.8v1.8h-1.8zM544.83 74.80h1.8v1.8h-1.8zM550.20 74.80h1.8v1.8h-1.8zM555.57 74.80h1.8v1.8h-1.8zM560.94 74.80h1.8v1.8h-1.8zM566.31 74.80h1.8v1.8h-1.8zM571.68 74.80h1.8v1.8h-1.8zM577.05 74.80h1.8v1.8h-1.8zM582.42 74.80h1.8v1.8h-1.8zM587.79 74.80h1.8v1.8h-1.8zM593.16 74.80h1.8v1.8h-1.8zM598.53 74.80h1.8v1.8h-1.8zM507.24 85.30h1.8v1.8h-1.8zM512.61 85.30h1.8v1.8h-1.8zM517.98 85.30h1.8v1.8h-1.8zM523.35 85.30h1.8v1.8h-1.8zM550.20 85.30h1.8v1.8h-1.8zM555.57 85.30h1.8v1.8h-1.8zM560.94 85.30h1.8v1.8h-1.8zM566.31 85.30h1.8v1.8h-1.8zM571.68 85.30h1.8v1.8h-1.8zM577.05 85.30h1.8v1.8h-1.8zM582.42 85.30h1.8v1.8h-1.8zM587.79 85.30h1.8v1.8h-1.8zM593.16 85.30h1.8v1.8h-1.8zM598.53 85.30h1.8v1.8h-1.8zM480.39 97.30h1.8v1.8h-1.8zM485.76 97.30h1.8v1.8h-1.8zM507.24 97.30h1.8v1.8h-1.8zM512.61 97.30h1.8v1.8h-1.8zM517.98 97.30h1.8v1.8h-1.8zM523.35 97.30h1.8v1.8h-1.8zM528.72 97.30h1.8v1.8h-1.8zM550.20 97.30h1.8v1.8h-1.8zM555.57 97.30h1.8v1.8h-1.8zM560.94 97.30h1.8v1.8h-1.8zM566.31 97.30h1.8v1.8h-1.8zM571.68 97.30h1.8v1.8h-1.8zM577.05 97.30h1.8v1.8h-1.8zM582.42 97.30h1.8v1.8h-1.8zM587.79 97.30h1.8v1.8h-1.8zM593.16 97.30h1.8v1.8h-1.8zM598.53 97.30h1.8v1.8h-1.8zM480.39 105.70h1.8v1.8h-1.8zM485.76 105.70h1.8v1.8h-1.8zM491.13 105.70h1.8v1.8h-1.8zM512.61 105.70h1.8v1.8h-1.8zM517.98 105.70h1.8v1.8h-1.8zM523.35 105.70h1.8v1.8h-1.8zM528.72 105.70h1.8v1.8h-1.8zM555.57 105.70h1.8v1.8h-1.8zM560.94 105.70h1.8v1.8h-1.8zM566.31 105.70h1.8v1.8h-1.8zM571.68 105.70h1.8v1.8h-1.8zM577.05 105.70h1.8v1.8h-1.8zM582.42 105.70h1.8v1.8h-1.8zM587.79 105.70h1.8v1.8h-1.8zM593.16 105.70h1.8v1.8h-1.8zM480.39 112.40h1.8v1.8h-1.8zM485.76 112.40h1.8v1.8h-1.8zM512.61 112.40h1.8v1.8h-1.8zM517.98 112.40h1.8v1.8h-1.8zM523.35 112.40h1.8v1.8h-1.8zM528.72 112.40h1.8v1.8h-1.8zM555.57 112.40h1.8v1.8h-1.8zM560.94 112.40h1.8v1.8h-1.8zM566.31 112.40h1.8v1.8h-1.8zM571.68 112.40h1.8v1.8h-1.8zM577.05 112.40h1.8v1.8h-1.8zM582.42 112.40h1.8v1.8h-1.8zM480.39 117.40h1.8v1.8h-1.8zM485.76 117.40h1.8v1.8h-1.8zM512.61 117.40h1.8v1.8h-1.8zM517.98 117.40h1.8v1.8h-1.8zM523.35 117.40h1.8v1.8h-1.8zM528.72 117.40h1.8v1.8h-1.8zM555.57 117.40h1.8v1.8h-1.8zM560.94 117.40h1.8v1.8h-1.8zM566.31 117.40h1.8v1.8h-1.8zM571.68 117.40h1.8v1.8h-1.8zM577.05 117.40h1.8v1.8h-1.8zM582.42 117.40h1.8v1.8h-1.8zM480.39 126.00h1.8v1.8h-1.8zM485.76 126.00h1.8v1.8h-1.8zM512.61 126.00h1.8v1.8h-1.8zM517.98 126.00h1.8v1.8h-1.8zM523.35 126.00h1.8v1.8h-1.8zM528.72 126.00h1.8v1.8h-1.8zM555.57 126.00h1.8v1.8h-1.8zM560.94 126.00h1.8v1.8h-1.8zM566.31 126.00h1.8v1.8h-1.8zM571.68 126.00h1.8v1.8h-1.8zM577.05 126.00h1.8v1.8h-1.8zM480.39 132.85h1.8v1.8h-1.8zM485.76 132.85h1.8v1.8h-1.8zM512.61 132.85h1.8v1.8h-1.8zM517.98 132.85h1.8v1.8h-1.8zM523.35 132.85h1.8v1.8h-1.8zM528.72 132.85h1.8v1.8h-1.8zM555.57 132.85h1.8v1.8h-1.8zM560.94 132.85h1.8v1.8h-1.8zM566.31 132.85h1.8v1.8h-1.8zM571.68 132.85h1.8v1.8h-1.8zM577.05 132.85h1.8v1.8h-1.8zM480.39 138.00h1.8v1.8h-1.8zM485.76 138.00h1.8v1.8h-1.8zM507.24 138.00h1.8v1.8h-1.8zM512.61 138.00h1.8v1.8h-1.8zM517.98 138.00h1.8v1.8h-1.8zM523.35 138.00h1.8v1.8h-1.8zM528.72 138.00h1.8v1.8h-1.8zM555.57 138.00h1.8v1.8h-1.8zM560.94 138.00h1.8v1.8h-1.8zM566.31 138.00h1.8v1.8h-1.8zM571.68 138.00h1.8v1.8h-1.8zM577.05 138.00h1.8v1.8h-1.8zM480.39 142.50h1.8v1.8h-1.8zM512.61 142.50h1.8v1.8h-1.8zM517.98 142.50h1.8v1.8h-1.8zM523.35 142.50h1.8v1.8h-1.8zM528.72 142.50h1.8v1.8h-1.8zM555.57 142.50h1.8v1.8h-1.8zM560.94 142.50h1.8v1.8h-1.8zM566.31 142.50h1.8v1.8h-1.8zM571.68 142.50h1.8v1.8h-1.8zM577.05 142.50h1.8v1.8h-1.8zM507.24 148.40h1.8v1.8h-1.8zM512.61 148.40h1.8v1.8h-1.8zM517.98 148.40h1.8v1.8h-1.8zM523.35 148.40h1.8v1.8h-1.8zM528.72 148.40h1.8v1.8h-1.8zM555.57 148.40h1.8v1.8h-1.8zM560.94 148.40h1.8v1.8h-1.8zM566.31 148.40h1.8v1.8h-1.8zM571.68 148.40h1.8v1.8h-1.8zM577.05 148.40h1.8v1.8h-1.8zM507.24 151.30h1.8v1.8h-1.8zM512.61 151.30h1.8v1.8h-1.8zM517.98 151.30h1.8v1.8h-1.8zM523.35 151.30h1.8v1.8h-1.8zM555.57 151.30h1.8v1.8h-1.8zM560.94 151.30h1.8v1.8h-1.8zM566.31 151.30h1.8v1.8h-1.8zM571.68 151.30h1.8v1.8h-1.8z" fill="#000"/>
</g>
<path d="M441.50 153.65v3.8M479.85 153.65v3.8M518.21 153.65v3.8M556.56 153.65v3.8M594.91 153.65v3.8M441.50 18.40h-3.8M441.50 38.76h-3.8M441.50 65.67h-3.8M441.50 86.03h-3.8M441.50 106.38h-3.8M441.50 133.29h-3.8M441.50 153.65h-3.8" stroke="#000" stroke-width="0.9" fill="none"/>
<rect x="441.5" y="18.4" width="163.0" height="135.25" fill="none" stroke="#000" stroke-width="0.9"/>
<text x="441.50" y="169.85" font-size="11.5" text-anchor="middle">EQ</text>
<text x="479.85" y="169.85" font-size="11.5" text-anchor="middle">20N</text>
<text x="518.21" y="169.85" font-size="11.5" text-anchor="middle">40N</text>
<text x="556.56" y="169.85" font-size="11.5" text-anchor="middle">60N</text>
<text x="594.91" y="169.85" font-size="11.5" text-anchor="middle">80N</text>
<g clip-path="url(#cp3)">
<rect x="82.45" y="201.35" width="163.0" height="135.25" fill="#f7f7f7"/>
<path d="M113.0 198.2C112.8 199.7 112.8 204.5 111.8 207.0C110.7 209.5 109.0 211.7 106.8 213.2C104.5 214.8 101.1 216.1 98.0 216.5C94.9 216.9 91.3 216.2 88.0 215.8C84.7 215.3 79.7 214.3 78.0 214.0L78.0 198.2Z" fill="#cfe4ef"/>
<path d="M98.5 198.2C98.2 199.1 98.1 202.0 96.8 203.2C95.4 204.5 93.6 205.3 90.5 205.8C87.4 206.2 80.1 206.0 78.0 206.0L78.0 198.2Z" fill="#8ebfdc"/>
<path d="M78.0 237.0C79.7 237.8 85.3 240.1 88.0 242.0C90.7 243.9 94.2 246.4 94.2 248.2C94.2 250.1 90.7 251.8 88.0 253.2C85.3 254.7 79.7 256.4 78.0 257.0Z" fill="#f3d3bf"/>
<path d="M146.8 198.2C147.4 200.1 149.0 205.5 150.5 209.5C152.0 213.5 153.8 217.8 155.5 222.0C157.2 226.2 158.8 230.3 160.5 234.5C162.2 238.7 164.5 244.4 165.5 247.0C166.5 249.6 166.1 247.4 166.8 250.0C167.4 252.6 168.3 258.3 169.2 262.5C170.2 266.7 171.7 270.8 172.5 275.0C173.3 279.2 174.0 283.3 174.2 287.5C174.5 291.7 174.5 295.8 174.2 300.0C174.0 304.2 173.3 308.8 173.0 312.5C172.7 316.2 172.1 319.6 172.5 322.5C172.9 325.4 173.8 328.0 175.5 330.0C177.2 332.0 180.1 333.2 183.0 334.5C185.9 335.8 191.3 337.0 193.0 337.5L223.0 337.5C223.4 336.9 224.2 335.0 225.5 333.8C226.8 332.5 229.2 332.3 230.5 330.0C231.8 327.7 232.4 323.8 233.0 320.0C233.6 316.2 233.4 311.7 234.2 307.5C235.1 303.3 236.8 299.2 238.0 295.0C239.2 290.8 240.1 286.9 241.8 282.5C243.4 278.1 247.0 271.0 248.0 268.8L248.0 198.2Z" fill="#cfe4ef"/>
<path d="M158.0 198.2C158.6 200.5 160.3 207.6 161.8 212.0C163.2 216.4 165.1 219.9 166.8 224.5C168.4 229.1 170.5 235.2 171.8 239.5C173.0 243.8 173.5 246.2 174.2 250.0C175.0 253.8 175.4 258.3 176.0 262.5C176.6 266.7 177.5 270.8 178.0 275.0C178.5 279.2 179.0 283.3 179.2 287.5C179.5 291.7 179.4 295.8 179.2 300.0C179.1 304.2 178.5 309.0 178.5 312.5C178.5 316.0 178.3 318.8 179.2 321.2C180.2 323.8 182.0 326.0 184.2 327.5C186.5 329.0 189.9 330.0 193.0 330.5C196.1 331.0 199.7 330.8 203.0 330.5C206.3 330.2 209.9 329.9 213.0 328.8C216.1 327.6 219.9 326.0 221.8 323.8C223.6 321.5 223.4 318.5 224.2 315.0C225.1 311.5 225.7 306.7 226.8 302.5C227.8 298.3 229.0 294.2 230.5 290.0C232.0 285.8 233.8 282.1 235.5 277.5C237.2 272.9 239.0 267.1 240.5 262.5C242.0 257.9 243.0 254.2 244.2 250.0C245.5 245.8 247.4 239.2 248.0 237.0L248.0 198.2Z" fill="#8ebfdc"/>
<path d="M167.5 198.2C168.0 200.5 169.4 207.6 170.5 212.0C171.6 216.4 173.0 219.9 174.2 224.5C175.5 229.1 177.2 235.2 178.0 239.5C178.8 243.8 178.8 246.2 179.2 250.0C179.8 253.8 180.4 258.3 181.0 262.5C181.6 266.7 182.6 270.8 183.0 275.0C183.4 279.2 183.5 283.3 183.5 287.5C183.5 291.7 183.1 296.0 183.0 300.0C182.9 304.0 182.4 307.9 183.0 311.2C183.6 314.6 184.9 317.8 186.8 320.0C188.6 322.2 191.5 323.7 194.2 324.5C197.0 325.3 200.3 325.5 203.0 325.0C205.7 324.5 208.4 323.3 210.5 321.2C212.6 319.2 214.0 316.0 215.5 312.5C217.0 309.0 217.8 304.2 219.2 300.0C220.7 295.8 222.6 291.7 224.2 287.5C225.9 283.3 227.6 279.2 229.2 275.0C230.9 270.8 232.7 266.7 234.2 262.5C235.8 258.3 237.0 254.2 238.5 250.0C240.0 245.8 241.9 242.5 243.5 237.0C245.1 231.5 247.2 220.3 248.0 217.0L248.0 198.2Z" fill="#4b8cc0"/>
<path d="M175.0 198.2C175.4 200.5 176.6 207.2 177.5 212.0C178.4 216.8 179.5 222.0 180.5 227.0C181.5 232.0 182.7 238.2 183.5 242.0C184.3 245.8 184.8 246.6 185.5 250.0C186.2 253.4 186.9 258.3 187.5 262.5C188.1 266.7 189.0 270.8 189.2 275.0C189.5 279.2 189.2 283.3 189.2 287.5C189.2 291.7 188.8 296.7 189.2 300.0C189.7 303.3 190.3 305.4 191.8 307.5C193.2 309.6 195.9 312.1 198.0 312.5C200.1 312.9 202.4 311.7 204.2 310.0C206.1 308.3 207.6 305.4 209.2 302.5C210.9 299.6 212.6 296.2 214.2 292.5C215.9 288.8 217.6 284.2 219.2 280.0C220.9 275.8 222.6 271.2 224.2 267.5C225.9 263.8 227.8 260.4 229.2 257.5C230.7 254.6 231.2 253.8 233.0 250.0C234.8 246.2 238.4 240.0 240.0 234.5C241.6 229.0 242.2 223.0 242.8 217.0C243.3 211.0 243.4 201.4 243.5 198.2Z" fill="#2b5a94"/>
<path d="M183.0 198.2C183.2 201.4 183.8 211.4 184.2 217.0C184.8 222.6 185.4 227.0 186.0 232.0C186.6 237.0 187.5 244.0 188.0 247.0C188.5 250.0 188.6 247.8 189.2 250.0C189.9 252.2 190.8 256.2 191.8 260.0C192.7 263.8 194.0 268.8 195.0 272.5C196.0 276.2 196.9 279.8 198.0 282.5C199.1 285.2 200.3 287.9 201.8 288.8C203.2 289.6 205.1 289.0 206.8 287.5C208.4 286.0 210.1 282.9 211.8 280.0C213.4 277.1 214.9 273.3 216.8 270.0C218.6 266.7 220.9 263.3 223.0 260.0C225.1 256.7 227.1 254.2 229.2 250.0C231.4 245.8 234.3 240.0 236.0 234.5C237.7 229.0 238.7 223.0 239.5 217.0C240.3 211.0 240.8 201.4 241.0 198.2Z" fill="#1b3766"/>
<path d="M144.2 255.0C142.4 255.3 140.3 256.2 139.2 258.8C138.2 261.2 138.1 266.0 138.0 270.0C137.9 274.0 138.3 278.3 138.5 282.5C138.7 286.7 139.1 290.8 139.2 295.0C139.4 299.2 139.4 303.3 139.2 307.5C139.1 311.7 138.5 316.2 138.5 320.0C138.5 323.8 138.5 327.1 139.2 330.0C140.0 332.9 138.6 336.2 143.0 337.5C147.4 338.8 162.0 338.8 165.5 337.5C169.0 336.2 164.3 332.5 164.2 330.0C164.2 327.5 164.4 325.4 165.0 322.5C165.6 319.6 167.2 316.2 168.0 312.5C168.8 308.8 169.9 304.2 170.0 300.0C170.1 295.8 169.5 291.7 168.5 287.5C167.5 283.3 166.0 278.8 164.2 275.0C162.5 271.2 160.3 268.0 158.0 265.0C155.7 262.0 152.8 258.7 150.5 257.0C148.2 255.3 146.1 254.7 144.2 255.0Z" fill="#f3d3bf"/>
<path d="M154.2 281.2C152.7 281.7 150.4 282.7 149.2 285.0C148.1 287.3 147.6 291.5 147.5 295.0C147.4 298.5 147.8 303.0 148.5 306.2C149.2 309.5 150.7 312.7 151.8 314.5C152.8 316.3 153.8 317.1 155.0 317.0C156.2 316.9 157.9 315.8 159.2 313.8C160.6 311.8 162.2 307.9 163.0 305.0C163.8 302.1 164.3 299.2 164.2 296.2C164.2 293.3 163.5 289.8 162.5 287.5C161.5 285.2 159.9 283.5 158.5 282.5C157.1 281.5 155.8 280.8 154.2 281.2Z" fill="#e39272"/>
<path d="M115.5 280.0C116.7 279.0 119.9 278.8 121.8 279.2C123.6 279.7 125.6 280.7 126.8 282.5C127.9 284.3 128.6 287.3 128.8 290.0C128.9 292.7 128.5 296.2 127.5 298.8C126.5 301.3 124.4 305.1 123.0 305.5C121.6 305.9 120.5 303.4 119.2 301.2C118.0 299.1 116.2 295.2 115.5 292.5C114.8 289.8 114.8 287.1 114.8 285.0C114.8 282.9 114.3 281.0 115.5 280.0Z" fill="#cfe4ef"/>
</g>
<path d="M82.45 336.60v3.8M120.80 336.60v3.8M159.16 336.60v3.8M197.51 336.60v3.8M235.86 336.60v3.8M82.45 201.35h-3.8M82.45 221.71h-3.8M82.45 248.62h-3.8M82.45 268.98h-3.8M82.45 289.33h-3.8M82.45 316.24h-3.8M82.45 336.60h-3.8" stroke="#000" stroke-width="0.9" fill="none"/>
<rect x="82.45" y="201.35" width="163.0" height="135.25" fill="none" stroke="#000" stroke-width="0.9"/>
<text x="82.45" y="352.80" font-size="11.5" text-anchor="middle">EQ</text>
<text x="120.80" y="352.80" font-size="11.5" text-anchor="middle">20N</text>
<text x="159.16" y="352.80" font-size="11.5" text-anchor="middle">40N</text>
<text x="197.51" y="352.80" font-size="11.5" text-anchor="middle">60N</text>
<text x="235.86" y="352.80" font-size="11.5" text-anchor="middle">80N</text>
<text x="74.05" y="205.65" font-size="11.5" text-anchor="end">10</text>
<text x="74.05" y="226.01" font-size="11.5" text-anchor="end">20</text>
<text x="74.05" y="252.92" font-size="11.5" text-anchor="end">50</text>
<text x="74.05" y="273.28" font-size="11.5" text-anchor="end">100</text>
<text x="74.05" y="293.63" font-size="11.5" text-anchor="end">200</text>
<text x="74.05" y="320.54" font-size="11.5" text-anchor="end">500</text>
<text x="74.05" y="340.90" font-size="11.5" text-anchor="end">1000</text>
<text transform="translate(38.0 269.98) rotate(-90)" font-size="11.5" text-anchor="middle">Pressure (hPa)</text>
<g clip-path="url(#cp4)">
<rect x="262.1" y="201.35" width="163.0" height="135.25" fill="#f7f7f7"/>
<path d="M258.0 214.0C261.3 214.1 272.6 215.0 278.0 214.5C283.4 214.0 287.6 212.5 290.5 210.8C293.4 209.0 294.5 206.1 295.5 204.0C296.5 201.9 296.3 199.2 296.5 198.2L258.0 198.2Z" fill="#f3d3bf"/>
<path d="M258.0 210.0C260.9 210.2 270.7 211.6 275.5 211.2C280.3 210.9 284.0 210.2 286.8 208.0C289.5 205.8 291.1 199.9 292.0 198.2L258.0 198.2Z" fill="#e39272"/>
<path d="M258.0 206.2C260.5 206.5 269.0 208.1 273.0 208.0C277.0 207.9 279.5 207.4 281.8 205.8C284.0 204.1 285.5 199.5 286.2 198.2L258.0 198.2Z" fill="#c84a42"/>
<path d="M273.5 198.2C273.8 198.9 274.7 201.3 275.5 202.0C276.3 202.7 277.6 203.1 278.5 202.5C279.4 201.9 280.6 199.0 281.0 198.2Z" fill="#8e1728"/>
<path d="M258.0 219.0C261.3 218.9 272.6 219.0 278.0 218.2C283.4 217.5 287.2 216.4 290.5 214.5C293.8 212.6 296.3 209.7 298.0 207.0C299.7 204.3 300.1 199.7 300.5 198.2L353.0 198.2C352.8 199.7 352.4 204.3 351.8 207.0C351.1 209.7 350.7 212.4 349.2 214.5C347.8 216.6 345.7 218.5 343.0 219.5C340.3 220.5 336.3 220.3 333.0 220.8C329.7 221.2 325.7 220.8 323.0 222.0C320.3 223.2 318.6 225.8 316.8 228.2C314.9 230.8 313.6 234.3 311.8 237.0C309.9 239.7 308.2 242.4 305.5 244.5C302.8 246.6 299.2 248.6 295.5 249.5C291.8 250.4 289.2 250.6 283.0 250.0C276.8 249.4 262.2 246.5 258.0 245.8Z" fill="#cfe4ef"/>
<path d="M311.0 198.2C311.5 199.5 312.2 204.1 314.2 205.8C316.2 207.4 319.9 207.8 323.0 208.2C326.1 208.7 330.3 208.7 333.0 208.2C335.7 207.8 337.7 207.4 339.2 205.8C340.8 204.1 341.8 199.5 342.2 198.2Z" fill="#8ebfdc"/>
<path d="M258.0 220.8C262.2 220.6 276.3 220.1 283.0 220.0C289.7 219.9 294.6 220.0 298.0 220.2C301.4 220.5 303.1 220.0 303.5 221.5C303.9 223.0 301.8 226.7 300.5 229.5C299.2 232.3 297.6 236.0 295.5 238.2C293.4 240.5 290.9 242.2 288.0 243.2C285.1 244.3 283.0 244.7 278.0 244.5C273.0 244.3 261.3 242.4 258.0 242.0Z" fill="#8ebfdc"/>
<path d="M258.0 225.0C260.5 224.8 269.0 223.8 273.0 223.8C277.0 223.8 279.5 224.1 281.8 225.0C284.0 225.9 285.5 227.6 286.8 229.0C288.0 230.4 289.5 231.8 289.2 233.2C289.0 234.7 287.2 236.4 285.5 237.5C283.8 238.6 281.8 239.5 279.2 240.0C276.8 240.5 274.0 240.8 270.5 240.8C267.0 240.8 260.1 240.1 258.0 240.0Z" fill="#4b8cc0"/>
<path d="M258.0 230.0C260.1 229.9 267.2 229.2 270.5 229.5C273.8 229.8 276.1 230.8 278.0 231.5C279.9 232.2 281.8 233.0 281.8 233.8C281.8 234.5 279.9 235.6 278.0 236.2C276.1 236.9 273.8 237.3 270.5 237.5C267.2 237.7 260.1 237.5 258.0 237.5Z" fill="#2b5a94"/>
<path d="M258.0 252.0C260.5 252.1 268.8 251.9 273.0 252.5C277.2 253.1 280.4 254.8 283.0 255.8C285.6 256.7 288.5 257.2 288.5 258.2C288.5 259.3 285.6 260.8 283.0 262.0C280.4 263.2 277.2 264.8 273.0 265.8C268.8 266.8 260.5 267.6 258.0 268.0Z" fill="#f3d3bf"/>
<path d="M258.0 257.0C260.1 257.0 267.6 256.8 270.5 257.0C273.4 257.2 275.5 258.0 275.5 258.5C275.5 259.0 273.4 259.6 270.5 260.0C267.6 260.4 260.1 260.6 258.0 260.8Z" fill="#e39272"/>
<path d="M258.0 277.5C260.5 277.6 269.0 277.4 273.0 278.0C277.0 278.6 281.1 279.9 281.8 281.2C282.4 282.6 279.0 285.0 276.8 286.2C274.5 287.5 271.1 288.2 268.0 288.8C264.9 289.3 259.7 289.4 258.0 289.5Z" fill="#cfe4ef"/>
<path d="M311.8 266.2C309.7 266.5 306.8 266.9 305.5 268.8C304.2 270.6 304.3 274.4 304.2 277.5C304.2 280.6 304.7 283.8 305.0 287.5C305.3 291.2 305.4 295.8 306.0 300.0C306.6 304.2 307.4 309.0 308.5 312.5C309.6 316.0 310.9 319.1 312.5 321.2C314.1 323.4 316.2 325.0 318.0 325.5C319.8 326.0 321.8 325.8 323.5 324.5C325.2 323.2 326.6 320.3 328.0 317.5C329.4 314.7 330.9 310.8 331.8 307.5C332.6 304.2 333.0 300.8 333.0 297.5C333.0 294.2 332.6 290.6 331.8 287.5C330.9 284.4 329.5 281.5 328.0 278.8C326.5 276.0 324.7 273.1 323.0 271.2C321.3 269.4 319.9 268.3 318.0 267.5C316.1 266.7 313.8 266.0 311.8 266.2Z" fill="#f3d3bf"/>
<path d="M350.5 235.8C346.8 236.0 341.8 237.8 338.0 239.5C334.2 241.2 330.3 243.2 328.0 245.8C325.7 248.2 324.8 252.5 324.2 254.5C323.8 256.5 324.0 254.9 325.0 257.5C326.0 260.1 328.5 265.8 330.5 270.0C332.5 274.2 335.1 278.3 336.8 282.5C338.4 286.7 339.7 290.4 340.5 295.0C341.3 299.6 341.5 305.4 341.8 310.0C342.0 314.6 341.1 319.0 341.8 322.5C342.4 326.0 343.4 329.2 345.5 331.2C347.6 333.3 350.9 334.1 354.2 335.0C357.6 335.9 361.1 336.4 365.5 336.5C369.9 336.6 376.3 336.6 380.5 335.5C384.7 334.4 388.0 332.2 390.5 330.0C393.0 327.8 394.6 325.8 395.5 322.5C396.4 319.2 396.2 314.2 396.0 310.0C395.8 305.8 395.0 301.7 394.2 297.5C393.5 293.3 392.8 289.2 391.8 285.0C390.7 280.8 389.5 276.2 388.0 272.5C386.5 268.8 385.1 265.8 383.0 262.5C380.9 259.2 377.6 255.3 375.5 252.5C373.4 249.7 373.0 248.1 370.5 245.8C368.0 243.4 363.8 239.9 360.5 238.2C357.2 236.6 354.2 235.5 350.5 235.8Z" fill="#cfe4ef"/>
<path d="M365.5 268.0C362.9 267.8 360.1 268.4 358.0 270.0C355.9 271.6 354.2 274.6 353.0 277.5C351.8 280.4 351.0 283.8 350.5 287.5C350.0 291.2 350.0 295.8 350.0 300.0C350.0 304.2 350.1 308.8 350.5 312.5C350.9 316.2 351.2 319.9 352.5 322.5C353.8 325.1 355.4 326.8 358.0 328.0C360.6 329.2 364.7 330.1 368.0 330.0C371.3 329.9 375.3 329.2 378.0 327.5C380.7 325.8 382.9 322.9 384.2 320.0C385.6 317.1 385.8 313.8 386.0 310.0C386.2 306.2 386.0 301.2 385.5 297.5C385.0 293.8 384.0 290.6 383.0 287.5C382.0 284.4 380.8 281.5 379.2 278.8C377.7 276.0 375.8 273.0 373.5 271.2C371.2 269.5 368.1 268.2 365.5 268.0Z" fill="#8ebfdc"/>
<path d="M366.0 292.0C364.2 292.2 361.9 294.5 361.0 296.2C360.1 298.0 360.2 300.4 360.5 302.5C360.8 304.6 362.0 307.3 363.0 308.8C364.0 310.2 365.0 311.5 366.2 311.2C367.5 311.0 369.4 309.2 370.5 307.5C371.6 305.8 372.8 303.3 373.0 301.2C373.2 299.2 372.9 296.5 371.8 295.0C370.6 293.5 367.8 291.8 366.0 292.0Z" fill="#4b8cc0"/>
<path d="M363.0 198.2C363.8 200.1 365.5 205.5 368.0 209.5C370.5 213.5 374.7 217.8 378.0 222.0C381.3 226.2 385.3 229.8 388.0 234.5C390.7 239.2 392.2 245.3 394.2 250.0C396.3 254.7 398.6 258.3 400.5 262.5C402.4 266.7 404.2 270.8 405.5 275.0C406.8 279.2 407.5 283.3 408.0 287.5C408.5 291.7 408.1 297.3 408.5 300.0C408.9 302.7 409.4 302.8 410.5 303.8C411.6 304.7 413.8 305.9 415.0 305.5C416.2 305.1 417.1 303.8 418.0 301.2C418.9 298.7 418.8 294.2 420.5 290.0C422.2 285.8 426.8 278.5 428.0 276.2L428.0 198.2Z" fill="#f3d3bf"/>
<path d="M373.8 198.2C374.5 199.9 375.6 204.9 378.0 208.2C380.4 211.6 384.7 214.9 388.0 218.2C391.3 221.6 395.1 225.1 398.0 228.2C400.9 231.4 403.4 234.9 405.5 237.0C407.6 239.1 408.8 240.5 410.5 240.8C412.2 241.0 414.0 240.1 415.5 238.2C417.0 236.4 418.0 232.6 419.2 229.5C420.5 226.4 421.5 222.6 423.0 219.5C424.5 216.4 427.2 212.2 428.0 210.8L428.0 198.2Z" fill="#e39272"/>
<path d="M386.2 198.2C387.0 199.7 388.5 204.6 390.5 207.0C392.5 209.4 395.1 210.9 398.0 212.5C400.9 214.1 405.1 216.1 408.0 216.5C410.9 216.9 413.6 216.2 415.5 215.0C417.4 213.8 418.3 212.3 419.2 209.5C420.2 206.7 420.7 200.1 421.0 198.2Z" fill="#c84a42"/>
</g>
<path d="M262.10 336.60v3.8M300.45 336.60v3.8M338.81 336.60v3.8M377.16 336.60v3.8M415.51 336.60v3.8M262.10 201.35h-3.8M262.10 221.71h-3.8M262.10 248.62h-3.8M262.10 268.98h-3.8M262.10 289.33h-3.8M262.10 316.24h-3.8M262.10 336.60h-3.8" stroke="#000" stroke-width="0.9" fill="none"/>
<rect x="262.1" y="201.35" width="163.0" height="135.25" fill="none" stroke="#000" stroke-width="0.9"/>
<text x="262.10" y="352.80" font-size="11.5" text-anchor="middle">EQ</text>
<text x="300.45" y="352.80" font-size="11.5" text-anchor="middle">20N</text>
<text x="338.81" y="352.80" font-size="11.5" text-anchor="middle">40N</text>
<text x="377.16" y="352.80" font-size="11.5" text-anchor="middle">60N</text>
<text x="415.51" y="352.80" font-size="11.5" text-anchor="middle">80N</text>
<g clip-path="url(#cp5)">
<rect x="441.5" y="201.35" width="163.0" height="135.25" fill="#f7f7f7"/>
<path d="M438.0 214.1C440.1 214.1 446.9 214.3 450.6 214.1C454.4 213.9 457.6 213.5 460.8 212.8C463.9 212.1 467.3 211.0 469.6 209.6C471.9 208.3 473.6 206.2 474.7 204.6C475.7 203.0 475.7 200.9 475.9 200.2L438.0 200.2Z" fill="#cfe4ef"/>
<path d="M438.0 211.5C440.1 211.5 446.9 211.9 450.6 211.5C454.4 211.2 458.0 210.5 460.8 209.6C463.5 208.8 465.4 208.1 467.1 206.5C468.7 204.9 470.0 201.2 470.6 200.2L438.0 200.2Z" fill="#8ebfdc"/>
<path d="M438.0 209.0C440.5 209.0 449.2 209.1 453.2 208.6C457.2 208.2 459.8 207.9 462.0 206.5C464.3 205.1 466.0 201.2 466.8 200.2L438.0 200.2Z" fill="#4b8cc0"/>
<path d="M438.0 206.5C440.1 206.5 447.3 206.8 450.6 206.5C454.0 206.2 456.1 205.9 458.2 204.8C460.3 203.8 462.5 200.9 463.3 200.2L438.0 200.2Z" fill="#2b5a94"/>
<path d="M438.0 203.3C439.7 203.4 445.4 203.7 448.1 203.6C450.9 203.5 452.8 203.3 454.4 202.7C456.1 202.1 457.4 200.6 458.0 200.2L438.0 200.2Z" fill="#1b3766"/>
<path d="M438.0 218.2C440.1 218.1 446.4 217.7 450.6 217.2C454.9 216.8 459.7 216.2 463.3 215.7C466.9 215.2 469.8 214.7 472.1 214.1C474.5 213.5 476.0 213.1 477.2 212.2C478.4 211.2 478.6 209.6 479.1 208.4C479.6 207.1 479.9 206.0 480.4 204.6C480.8 203.2 481.4 200.9 481.6 200.2L515.4 200.2C515.1 201.3 514.8 204.9 513.9 207.1C513.0 209.3 511.6 211.5 510.1 213.4C508.6 215.3 506.5 217.0 505.0 218.5C503.6 220.0 502.1 220.6 501.2 222.3C500.4 224.0 500.4 226.7 500.0 228.6C499.5 230.5 498.5 232.4 498.7 233.7C498.9 234.9 499.8 235.5 501.2 236.2C502.7 236.9 505.5 237.4 507.6 238.1C509.7 238.8 512.4 239.6 513.9 240.6C515.4 241.7 515.4 243.1 516.4 244.5C517.5 245.9 519.0 246.8 520.2 249.0C521.4 251.1 522.6 254.3 523.8 257.2C525.0 260.0 526.4 263.1 527.6 266.0C528.7 269.0 529.9 272.1 530.7 274.9C531.6 277.6 532.1 280.4 532.6 282.5C533.2 284.5 533.5 284.9 533.9 287.0C534.3 289.1 534.8 292.0 535.2 295.0C535.6 298.0 536.0 301.7 536.2 305.1C536.4 308.5 536.5 311.9 536.4 315.2C536.4 318.6 536.2 322.6 535.8 325.4C535.4 328.1 534.6 329.6 533.9 331.7C533.2 333.8 531.8 336.9 531.4 338.0L512.0 338.0C511.5 337.4 509.8 335.7 508.8 334.2C507.9 332.7 506.9 331.5 506.3 329.1C505.7 326.8 505.5 323.2 505.3 320.3C505.1 317.3 505.0 314.4 505.0 311.4C505.0 308.5 505.1 305.3 505.3 302.6C505.5 299.8 506.2 298.6 506.3 295.0C506.4 291.4 506.1 284.6 505.7 281.2C505.2 277.9 504.5 277.0 503.8 274.9C503.0 272.8 502.3 270.7 501.2 268.6C500.2 266.5 498.6 264.3 497.4 262.2C496.3 260.1 494.9 258.0 494.3 255.9C493.6 253.8 494.0 251.1 493.6 249.6C493.3 248.1 493.2 247.4 492.4 247.1C491.5 246.7 490.3 247.3 488.6 247.7C486.9 248.1 484.8 248.9 482.3 249.6C479.7 250.3 476.6 251.6 473.4 252.1C470.2 252.6 467.1 252.9 463.3 252.7C459.5 252.6 454.9 251.5 450.6 251.1C446.4 250.7 440.1 250.7 438.0 250.6Z" fill="#f3d3bf"/>
<path d="M490.5 200.2C490.7 200.9 491.1 203.5 491.7 204.6C492.4 205.7 493.2 206.8 494.3 206.9C495.3 207.0 496.9 205.9 498.1 205.2C499.2 204.5 500.5 203.5 501.2 202.7C502.0 201.8 502.3 200.6 502.5 200.2Z" fill="#e39272"/>
<path d="M513.9 267.3C513.3 267.1 513.1 267.9 512.9 269.2C512.7 270.5 512.7 272.9 512.6 274.9C512.5 276.9 512.5 277.9 512.4 281.2C512.3 284.6 511.9 291.4 512.0 295.0C512.0 298.6 512.3 300.1 512.6 302.6C512.9 305.1 513.2 308.1 513.9 310.2C514.5 312.3 515.5 313.9 516.4 315.2C517.4 316.6 518.5 318.1 519.6 318.4C520.6 318.7 522.5 317.1 522.7 317.1C523.0 317.1 520.9 318.6 521.3 318.4C521.7 318.2 524.0 317.2 525.1 315.9C526.1 314.5 527.0 312.4 527.6 310.2C528.2 308.0 528.5 305.1 528.6 302.6C528.7 300.1 528.5 297.6 528.2 295.0C527.9 292.4 527.4 288.9 527.0 287.0C526.5 285.1 526.3 285.1 525.7 283.7C525.1 282.3 524.1 280.4 523.2 278.7C522.2 277.0 520.5 274.2 520.0 273.6C519.5 273.0 520.8 275.4 520.2 274.9C519.6 274.4 517.5 271.7 516.4 270.5C515.4 269.2 514.5 267.5 513.9 267.3Z" fill="#e39272"/>
<path d="M438.0 221.7C440.1 221.6 446.4 221.3 450.6 221.0C454.9 220.8 459.1 220.4 463.3 220.1C467.5 219.9 472.9 219.6 475.9 219.5C479.0 219.4 480.1 219.2 481.6 219.5C483.1 219.9 484.6 220.6 485.0 221.7C485.5 222.8 484.8 224.3 484.2 226.1C483.5 227.9 482.2 230.5 481.0 232.4C479.8 234.3 478.5 236.0 477.2 237.5C475.9 238.9 474.7 240.0 473.4 241.3C472.1 242.5 471.7 244.2 469.6 245.2C467.5 246.1 463.9 246.5 460.8 246.8C457.6 247.1 454.4 247.1 450.6 246.8C446.9 246.5 440.1 245.4 438.0 245.2Z" fill="#e39272"/>
<path d="M438.0 224.2C440.1 224.0 447.1 223.3 450.6 223.3C454.2 223.3 457.0 223.5 459.5 224.2C462.0 224.9 464.1 226.2 465.8 227.4C467.5 228.5 468.7 230.1 469.6 231.1C470.6 232.2 471.6 232.7 471.5 233.7C471.4 234.6 470.1 235.8 469.0 236.8C467.8 237.9 465.9 239.1 464.6 240.0C463.2 240.9 463.1 241.5 460.8 242.0C458.4 242.5 454.4 242.8 450.6 243.0C446.9 243.2 440.1 243.2 438.0 243.3Z" fill="#c84a42"/>
<path d="M438.0 228.0C439.7 228.0 445.4 227.8 448.1 228.0C450.9 228.2 452.5 228.6 454.4 229.2C456.3 229.9 458.1 231.0 459.5 231.8C460.9 232.6 462.7 233.2 462.7 233.9C462.7 234.7 460.9 235.4 459.5 236.2C458.1 237.0 456.3 238.1 454.4 238.7C452.5 239.4 450.9 239.8 448.1 240.0C445.4 240.2 439.7 240.0 438.0 240.0Z" fill="#8e1728"/>
<path d="M438.0 231.8C439.3 231.8 443.5 231.6 445.6 231.8C447.7 232.0 449.3 232.7 450.6 233.0C452.0 233.4 453.8 233.6 453.8 233.9C453.8 234.2 452.0 234.6 450.6 234.9C449.3 235.3 447.7 236.0 445.6 236.2C443.5 236.4 439.3 236.2 438.0 236.2Z" fill="#6a0f25"/>
<path d="M438.0 254.6C440.1 254.7 446.9 254.6 450.6 254.9C454.4 255.2 457.9 256.0 460.8 256.5C463.6 257.1 467.3 257.5 467.7 258.4C468.1 259.4 465.3 261.1 463.3 262.2C461.3 263.4 458.2 264.7 455.7 265.4C453.2 266.1 451.1 266.5 448.1 266.7C445.2 266.9 439.7 266.7 438.0 266.7Z" fill="#cfe4ef"/>
<path d="M438.0 277.4C439.7 277.5 445.4 277.7 448.1 278.0C450.9 278.4 452.9 279.1 454.4 279.7C456.0 280.3 457.2 281.0 457.6 281.8C458.0 282.7 457.3 283.8 457.0 285.0C456.6 286.2 456.8 287.3 455.5 288.8C454.2 290.2 452.2 292.6 449.2 293.8C446.3 294.9 439.9 295.2 438.0 295.5Z" fill="#f3d3bf"/>
<path d="M483.5 266.0C481.8 266.2 479.7 266.9 478.5 267.9C477.2 269.0 476.7 270.6 475.9 272.4C475.2 274.1 474.7 276.6 474.0 278.7C473.4 280.8 473.6 281.2 472.1 285.0C470.7 288.8 465.7 297.3 465.2 301.3C464.7 305.3 467.6 306.4 469.0 308.9C470.4 311.4 471.9 314.2 473.4 316.5C474.9 318.8 476.5 321.1 477.8 322.8C479.2 324.5 480.3 326.2 481.6 326.6C483.0 327.0 484.5 326.3 486.1 325.4C487.6 324.4 489.6 322.6 491.1 320.9C492.6 319.2 493.9 317.2 494.9 315.2C496.0 313.2 496.9 311.2 497.4 308.9C498.0 306.6 498.2 303.6 498.5 301.3C498.7 299.0 498.9 298.6 498.7 295.0C498.5 291.4 498.0 283.3 497.4 279.9C496.9 276.6 496.4 276.6 495.5 274.9C494.7 273.2 493.5 271.2 492.4 269.8C491.2 268.5 490.1 267.3 488.6 266.7C487.1 266.0 485.2 265.8 483.5 266.0Z" fill="#cfe4ef"/>
<path d="M523.0 200.2C522.6 201.5 521.3 206.0 520.8 208.4C520.4 210.8 520.1 212.4 520.2 214.7C520.3 217.0 521.5 220.2 521.5 222.3C521.4 224.4 519.6 225.2 520.0 227.4C520.4 229.5 522.5 232.5 523.8 234.9C525.1 237.4 526.4 239.6 527.8 242.0C529.3 244.5 531.2 246.9 532.6 249.6C534.1 252.3 535.3 255.5 536.4 258.4C537.6 261.4 538.5 264.3 539.6 267.3C540.7 270.2 541.9 273.4 542.8 276.1C543.6 278.9 544.1 280.6 544.7 283.7C545.2 286.9 545.6 291.4 545.9 295.0C546.2 298.6 546.4 301.7 546.6 305.1C546.7 308.5 546.7 311.9 546.8 315.2C546.9 318.6 546.9 322.6 546.9 325.4C547.0 328.1 546.9 329.6 547.2 331.7C547.4 333.8 548.2 336.9 548.5 338.0L584.8 338.0C585.2 336.9 586.5 334.2 587.7 331.7C588.8 329.1 590.1 326.0 591.5 322.8C592.8 319.7 594.3 316.1 595.9 312.7C597.5 309.3 599.0 305.7 600.9 302.6C602.8 299.4 606.2 295.2 607.3 293.7L607.0 190.0Z" fill="#cfe4ef"/>
<path d="M527.0 200.2C527.0 201.7 527.1 206.6 527.3 209.6C527.6 212.7 528.0 215.5 528.6 218.5C529.2 221.5 530.0 224.6 530.7 227.4C531.5 230.1 532.4 232.5 533.3 234.9C534.1 237.4 534.9 239.6 535.8 242.0C536.8 244.5 537.9 246.9 539.0 249.6C540.0 252.3 541.1 255.5 542.1 258.4C543.2 261.4 544.3 264.3 545.3 267.3C546.2 270.2 547.0 273.4 547.8 276.1C548.7 278.9 549.6 280.6 550.4 283.7C551.1 286.9 551.6 292.1 552.2 295.0C552.9 297.9 553.4 299.2 554.1 301.3C554.9 303.4 555.6 305.3 556.7 307.6C557.7 310.0 559.0 312.9 560.5 315.2C561.9 317.6 564.1 320.0 565.5 321.6C567.0 323.1 568.2 324.2 569.3 324.7C570.5 325.2 571.6 325.2 572.5 324.7C573.3 324.2 573.4 322.9 574.4 321.6C575.3 320.2 576.7 318.6 578.2 316.5C579.7 314.4 581.8 311.4 583.2 308.9C584.7 306.4 585.9 303.6 587.0 301.3C588.2 299.0 588.7 297.9 590.2 295.0C591.7 292.1 594.1 286.7 595.9 283.7C597.7 280.8 599.1 279.9 600.9 277.4C602.7 274.9 605.7 270.0 606.6 268.6L607.0 190.0Z" fill="#8ebfdc"/>
<path d="M532.0 200.2C532.1 201.7 532.1 206.6 532.4 209.6C532.7 212.7 533.2 215.5 533.9 218.5C534.6 221.5 535.6 224.6 536.4 227.4C537.3 230.1 538.3 232.5 539.2 234.9C540.2 237.4 541.2 239.6 542.1 242.0C543.0 244.5 543.8 246.9 544.7 249.6C545.5 252.3 546.3 255.5 547.2 258.4C548.0 261.4 548.9 264.3 549.7 267.3C550.6 270.2 551.4 273.4 552.2 276.1C553.1 278.9 554.0 281.9 554.8 283.7C555.5 285.5 555.7 285.1 556.7 287.0C557.6 288.9 559.2 293.3 560.5 295.0C561.7 296.7 562.8 296.7 564.3 297.3C565.7 297.8 567.6 298.4 569.3 298.4C571.0 298.4 572.9 297.8 574.4 297.3C575.9 296.7 576.3 296.9 578.2 295.0C580.1 293.1 583.7 287.9 585.8 285.6C587.9 283.3 589.1 283.0 590.8 281.2C592.5 279.4 594.2 277.2 595.9 274.9C597.6 272.6 599.1 270.0 600.9 267.3C602.7 264.6 605.7 259.9 606.6 258.4L607.0 190.0Z" fill="#4b8cc0"/>
<path d="M438.0 222.7C440.1 222.3 446.4 221.2 450.6 220.4C454.9 219.6 459.7 218.8 463.3 217.9C466.9 216.9 469.8 216.1 472.1 214.7C474.5 213.3 475.9 211.3 477.2 209.6C478.5 208.0 479.0 206.3 479.7 204.6C480.5 202.9 481.3 200.4 481.6 199.5" fill="none" stroke="#7c7c7c" stroke-width="1.18" stroke-dasharray="3.7 1.6" stroke-linejoin="round"/>
<path d="M441.0 243.3C442.8 243.3 448.3 243.4 452.0 243.2C455.7 243.0 460.4 243.0 463.3 242.0C466.2 241.1 467.5 239.3 469.6 237.5C471.7 235.7 474.3 233.3 475.9 231.1C477.6 229.0 478.8 227.1 479.7 224.8C480.7 222.5 480.8 219.4 481.6 217.2C482.5 215.0 483.4 213.1 484.8 211.5C486.2 210.0 488.0 208.5 489.9 207.7C491.7 207.0 493.9 206.9 496.2 206.9C498.5 206.9 501.2 207.1 503.8 207.7C506.3 208.4 509.0 209.6 511.4 210.9C513.7 212.2 516.2 214.3 517.7 215.3C519.1 216.4 519.0 216.3 520.0 217.2C521.0 218.2 522.9 219.3 523.8 221.0C524.7 222.7 524.9 225.0 525.3 227.4C525.7 229.7 526.1 232.5 526.3 234.9C526.5 237.4 526.5 239.6 526.6 242.0C526.7 244.5 526.7 246.9 527.0 249.6C527.2 252.3 527.5 255.5 527.8 258.4C528.2 261.4 528.7 264.3 529.1 267.3C529.5 270.2 529.8 272.9 530.1 276.1C530.4 279.4 530.6 282.2 530.7 287.0C530.9 291.9 531.1 300.4 531.1 305.1C531.1 309.8 530.9 312.6 530.7 315.2C530.6 317.8 530.2 319.1 530.2 320.8C530.3 322.4 530.6 323.5 531.1 325.2C531.6 326.9 532.4 329.3 533.3 330.7C534.3 332.2 535.4 333.1 536.7 334.1C538.0 335.1 540.4 336.4 541.1 336.9" fill="none" stroke="#7c7c7c" stroke-width="1.18" stroke-dasharray="3.7 1.6" stroke-linejoin="round"/>
<path d="M544.7 199.5C544.6 201.2 544.3 205.9 544.0 209.6C543.8 213.4 543.3 218.1 543.0 222.3C542.8 226.5 542.6 231.7 542.5 234.9C542.4 238.2 542.6 239.6 542.5 242.0C542.4 244.4 542.0 246.8 541.8 249.6C541.5 252.3 541.1 255.5 540.9 258.4C540.6 261.4 540.4 264.3 540.2 267.3C540.0 270.2 539.8 272.9 539.6 276.1C539.4 279.4 539.5 283.9 539.2 287.0C538.9 290.2 538.0 292.0 537.7 295.0C537.4 298.0 537.4 301.9 537.5 305.1C537.5 308.3 537.8 311.7 538.0 314.1C538.2 316.5 538.5 317.8 538.9 319.6C539.3 321.5 539.6 323.6 540.5 325.2C541.5 326.8 542.9 327.9 544.4 329.1C546.0 330.2 548.1 331.4 550.0 332.1C551.8 332.7 553.7 333.0 555.5 333.0C557.4 332.9 559.4 332.4 561.1 331.6C562.7 330.9 564.2 329.8 565.5 328.5C566.8 327.3 568.0 325.9 568.8 324.1C569.7 322.2 570.0 319.6 570.5 317.4C571.0 315.2 571.3 313.2 571.6 310.8C572.0 308.4 572.1 305.6 572.7 303.0C573.4 300.4 574.6 297.7 575.6 295.0C576.7 292.3 577.8 289.5 578.8 287.0C579.9 284.5 580.8 282.6 582.0 279.9C583.1 277.3 584.5 274.2 585.8 271.1C587.0 267.9 588.3 264.3 589.6 261.0C590.8 257.6 592.2 254.0 593.4 250.9C594.5 247.7 595.8 244.7 596.5 242.0C597.3 239.3 597.4 237.6 597.8 234.9C598.1 232.3 598.5 228.8 598.7 226.1C598.9 223.3 599.0 221.2 599.0 218.5C599.1 215.8 599.1 212.8 599.0 209.6C599.0 206.5 598.7 201.2 598.7 199.5" fill="none" stroke="#7c7c7c" stroke-width="1.18" stroke-dasharray="3.7 1.6" stroke-linejoin="round"/>
<path d="M565.5 199.5C564.9 201.0 563.0 205.6 561.7 208.4C560.5 211.1 558.9 213.4 557.9 216.0C557.0 218.5 556.3 220.8 555.8 223.6C555.3 226.3 555.0 229.3 554.8 232.4C554.5 235.5 554.5 238.3 554.4 242.0C554.3 245.7 554.2 250.4 554.1 254.6C554.1 258.9 554.1 263.1 553.9 267.3C553.7 271.5 553.4 276.7 553.1 279.9C552.9 283.2 553.0 284.5 552.2 287.0C551.5 289.5 549.0 292.3 548.5 295.0C547.9 297.7 548.5 300.9 548.9 303.0C549.2 305.1 549.7 306.3 550.5 307.4C551.4 308.5 552.8 309.5 553.9 309.7C555.0 309.8 556.3 309.3 557.2 308.5C558.1 307.8 558.9 306.1 559.4 305.2C559.9 304.3 559.3 304.7 560.0 303.0C560.7 301.3 563.0 297.7 563.6 295.0C564.2 292.3 563.1 289.3 563.6 287.0C564.2 284.7 565.4 283.7 566.8 281.2C568.2 278.8 570.2 275.5 571.9 272.4C573.5 269.2 575.2 265.8 576.9 262.2C578.6 258.7 580.5 254.2 582.0 250.9C583.4 247.5 584.7 244.9 585.8 242.0C586.8 239.1 587.7 236.3 588.3 233.7C588.9 231.0 589.1 228.6 589.3 226.1C589.5 223.6 589.5 221.2 589.3 218.5C589.1 215.8 588.6 212.8 588.3 209.6C588.0 206.5 587.6 201.2 587.4 199.5" fill="none" stroke="#7c7c7c" stroke-width="1.18" stroke-dasharray="3.7 1.6" stroke-linejoin="round"/>
<path d="M607.3 254.6C606.8 255.7 605.5 258.4 604.5 261.0C603.4 263.5 602.4 266.7 600.9 269.8C599.5 273.0 597.4 277.1 595.9 279.9C594.4 282.8 593.7 284.5 592.1 287.0C590.4 289.5 587.7 292.3 586.0 295.0C584.3 297.7 582.7 300.6 582.2 303.0C581.7 305.4 582.7 307.3 583.1 309.7C583.4 312.1 583.8 314.8 584.2 317.4C584.5 320.0 585.3 323.2 585.2 325.2C585.0 327.2 584.1 328.5 583.3 329.6C582.4 330.8 581.2 331.3 579.9 332.1C578.6 332.8 576.7 333.3 575.5 334.1C574.3 334.9 573.2 336.4 572.7 336.9" fill="none" stroke="#7c7c7c" stroke-width="1.18" stroke-dasharray="3.7 1.6" stroke-linejoin="round"/>
<path d="M502.5 338.6C502.4 336.8 502.2 330.9 501.9 327.9C501.6 324.8 500.9 323.7 500.6 320.3C500.3 316.9 500.1 311.9 500.0 307.6C499.8 303.4 500.0 298.4 499.7 295.0C499.4 291.6 498.2 289.5 498.1 287.0C497.9 284.5 498.3 282.0 498.7 279.9C499.1 277.9 499.9 276.3 500.6 274.9C501.3 273.5 502.1 272.3 503.1 271.7C504.2 271.1 505.6 271.0 506.9 271.3C508.3 271.7 510.0 272.6 511.4 273.6C512.7 274.6 513.9 275.9 515.1 277.4C516.4 278.9 517.9 280.9 518.9 282.5C520.0 284.1 520.6 284.8 521.5 287.0C522.3 289.3 523.6 293.0 524.0 296.0C524.4 299.0 524.4 302.0 524.0 305.0C523.6 308.0 522.3 311.2 521.5 314.0C520.6 316.7 519.5 319.5 518.9 321.6C518.4 323.7 517.9 324.9 517.9 326.6C517.9 328.3 518.4 329.7 518.9 331.7C519.5 333.7 521.0 337.5 521.5 338.6" fill="none" stroke="#7a7a7a" stroke-width="1.25" stroke-linejoin="round"/>
<ellipse cx="444.4" cy="258.7" rx="3.3" ry="1.1" fill="none" stroke="#808080" stroke-width="1"/>
<path d="M443.5 202.5h17" stroke="#808080" stroke-width="1" fill="none"/>
<path d="M536.4 200.2C536.5 201.7 536.7 206.6 537.1 209.6C537.5 212.7 538.1 215.5 538.7 218.5C539.3 221.5 540.1 224.6 540.9 227.4C541.6 230.1 542.6 232.5 543.4 234.9C544.2 237.4 545.1 239.6 545.9 242.0C546.8 244.5 547.5 246.9 548.5 249.6C549.4 252.3 550.7 255.5 551.6 258.4C552.6 261.4 553.1 264.6 554.1 267.3C555.2 270.0 556.5 272.6 557.9 274.9C559.4 277.2 561.3 279.6 563.0 281.2C564.7 282.8 566.4 283.8 568.1 284.4C569.7 284.9 571.4 284.8 573.1 284.4C574.8 283.9 576.5 283.0 578.2 281.8C579.9 280.7 581.5 279.0 583.2 277.4C584.9 275.8 586.6 274.2 588.3 272.4C590.0 270.5 591.8 268.1 593.4 266.0C594.9 263.9 596.4 261.8 597.8 259.7C599.1 257.6 600.1 255.8 601.6 253.4C603.0 251.0 605.8 246.5 606.6 245.2L607.0 190.0Z" fill="#2b5a94"/>
<path d="M540.9 200.2C541.0 201.7 541.2 206.6 541.5 209.6C541.8 212.7 542.2 215.5 542.8 218.5C543.4 221.5 544.2 224.6 545.0 227.4C545.8 230.1 546.8 232.5 547.6 234.9C548.4 237.4 548.8 239.6 549.7 242.0C550.6 244.5 551.7 246.9 552.9 249.6C554.0 252.3 555.4 255.7 556.7 258.4C557.9 261.2 559.0 263.8 560.5 266.0C561.9 268.2 563.8 270.4 565.5 271.7C567.2 273.1 568.9 273.9 570.6 274.2C572.3 274.6 574.0 274.2 575.6 273.6C577.3 273.0 579.0 271.7 580.7 270.5C582.4 269.2 584.1 267.8 585.8 266.0C587.5 264.2 589.2 261.8 590.8 259.7C592.4 257.6 594.0 255.5 595.2 253.4C596.5 251.3 597.6 249.0 598.4 247.1C599.3 245.2 599.7 244.9 600.3 242.0C600.9 239.1 601.3 233.6 601.8 229.9C602.4 226.2 603.0 223.1 603.5 219.8C603.9 216.4 604.2 212.9 604.5 209.6C604.8 206.4 605.2 201.7 605.4 200.2Z" fill="#1b3766"/>
<clipPath id="lc5"><path d="M536.4 200.2C536.5 201.7 536.7 206.6 537.1 209.6C537.5 212.7 538.1 215.5 538.7 218.5C539.3 221.5 540.1 224.6 540.9 227.4C541.6 230.1 542.6 232.5 543.4 234.9C544.2 237.4 545.1 239.6 545.9 242.0C546.8 244.5 547.5 246.9 548.5 249.6C549.4 252.3 550.7 255.5 551.6 258.4C552.6 261.4 553.1 264.6 554.1 267.3C555.2 270.0 556.5 272.6 557.9 274.9C559.4 277.2 561.3 279.6 563.0 281.2C564.7 282.8 566.4 283.8 568.1 284.4C569.7 284.9 571.4 284.8 573.1 284.4C574.8 283.9 576.5 283.0 578.2 281.8C579.9 280.7 581.5 279.0 583.2 277.4C584.9 275.8 586.6 274.2 588.3 272.4C590.0 270.5 591.8 268.1 593.4 266.0C594.9 263.9 596.4 261.8 597.8 259.7C599.1 257.6 600.1 255.8 601.6 253.4C603.0 251.0 605.8 246.5 606.6 245.2L607.0 190.0Z"/></clipPath>
<g clip-path="url(#lc5)">
<path d="M441.0 243.3C442.8 243.3 448.3 243.4 452.0 243.2C455.7 243.0 460.4 243.0 463.3 242.0C466.2 241.1 467.5 239.3 469.6 237.5C471.7 235.7 474.3 233.3 475.9 231.1C477.6 229.0 478.8 227.1 479.7 224.8C480.7 222.5 480.8 219.4 481.6 217.2C482.5 215.0 483.4 213.1 484.8 211.5C486.2 210.0 488.0 208.5 489.9 207.7C491.7 207.0 493.9 206.9 496.2 206.9C498.5 206.9 501.2 207.1 503.8 207.7C506.3 208.4 509.0 209.6 511.4 210.9C513.7 212.2 516.2 214.3 517.7 215.3C519.1 216.4 519.0 216.3 520.0 217.2C521.0 218.2 522.9 219.3 523.8 221.0C524.7 222.7 524.9 225.0 525.3 227.4C525.7 229.7 526.1 232.5 526.3 234.9C526.5 237.4 526.5 239.6 526.6 242.0C526.7 244.5 526.7 246.9 527.0 249.6C527.2 252.3 527.5 255.5 527.8 258.4C528.2 261.4 528.7 264.3 529.1 267.3C529.5 270.2 529.8 272.9 530.1 276.1C530.4 279.4 530.6 282.2 530.7 287.0C530.9 291.9 531.1 300.4 531.1 305.1C531.1 309.8 530.9 312.6 530.7 315.2C530.6 317.8 530.2 319.1 530.2 320.8C530.3 322.4 530.6 323.5 531.1 325.2C531.6 326.9 532.4 329.3 533.3 330.7C534.3 332.2 535.4 333.1 536.7 334.1C538.0 335.1 540.4 336.4 541.1 336.9" fill="none" stroke="#9b9a94" stroke-width="1.15" stroke-dasharray="3.7 1.6" stroke-linejoin="round"/>
<path d="M544.7 199.5C544.6 201.2 544.3 205.9 544.0 209.6C543.8 213.4 543.3 218.1 543.0 222.3C542.8 226.5 542.6 231.7 542.5 234.9C542.4 238.2 542.6 239.6 542.5 242.0C542.4 244.4 542.0 246.8 541.8 249.6C541.5 252.3 541.1 255.5 540.9 258.4C540.6 261.4 540.4 264.3 540.2 267.3C540.0 270.2 539.8 272.9 539.6 276.1C539.4 279.4 539.5 283.9 539.2 287.0C538.9 290.2 538.0 292.0 537.7 295.0C537.4 298.0 537.4 301.9 537.5 305.1C537.5 308.3 537.8 311.7 538.0 314.1C538.2 316.5 538.5 317.8 538.9 319.6C539.3 321.5 539.6 323.6 540.5 325.2C541.5 326.8 542.9 327.9 544.4 329.1C546.0 330.2 548.1 331.4 550.0 332.1C551.8 332.7 553.7 333.0 555.5 333.0C557.4 332.9 559.4 332.4 561.1 331.6C562.7 330.9 564.2 329.8 565.5 328.5C566.8 327.3 568.0 325.9 568.8 324.1C569.7 322.2 570.0 319.6 570.5 317.4C571.0 315.2 571.3 313.2 571.6 310.8C572.0 308.4 572.1 305.6 572.7 303.0C573.4 300.4 574.6 297.7 575.6 295.0C576.7 292.3 577.8 289.5 578.8 287.0C579.9 284.5 580.8 282.6 582.0 279.9C583.1 277.3 584.5 274.2 585.8 271.1C587.0 267.9 588.3 264.3 589.6 261.0C590.8 257.6 592.2 254.0 593.4 250.9C594.5 247.7 595.8 244.7 596.5 242.0C597.3 239.3 597.4 237.6 597.8 234.9C598.1 232.3 598.5 228.8 598.7 226.1C598.9 223.3 599.0 221.2 599.0 218.5C599.1 215.8 599.1 212.8 599.0 209.6C599.0 206.5 598.7 201.2 598.7 199.5" fill="none" stroke="#9b9a94" stroke-width="1.15" stroke-dasharray="3.7 1.6" stroke-linejoin="round"/>
<path d="M565.5 199.5C564.9 201.0 563.0 205.6 561.7 208.4C560.5 211.1 558.9 213.4 557.9 216.0C557.0 218.5 556.3 220.8 555.8 223.6C555.3 226.3 555.0 229.3 554.8 232.4C554.5 235.5 554.5 238.3 554.4 242.0C554.3 245.7 554.2 250.4 554.1 254.6C554.1 258.9 554.1 263.1 553.9 267.3C553.7 271.5 553.4 276.7 553.1 279.9C552.9 283.2 553.0 284.5 552.2 287.0C551.5 289.5 549.0 292.3 548.5 295.0C547.9 297.7 548.5 300.9 548.9 303.0C549.2 305.1 549.7 306.3 550.5 307.4C551.4 308.5 552.8 309.5 553.9 309.7C555.0 309.8 556.3 309.3 557.2 308.5C558.1 307.8 558.9 306.1 559.4 305.2C559.9 304.3 559.3 304.7 560.0 303.0C560.7 301.3 563.0 297.7 563.6 295.0C564.2 292.3 563.1 289.3 563.6 287.0C564.2 284.7 565.4 283.7 566.8 281.2C568.2 278.8 570.2 275.5 571.9 272.4C573.5 269.2 575.2 265.8 576.9 262.2C578.6 258.7 580.5 254.2 582.0 250.9C583.4 247.5 584.7 244.9 585.8 242.0C586.8 239.1 587.7 236.3 588.3 233.7C588.9 231.0 589.1 228.6 589.3 226.1C589.5 223.6 589.5 221.2 589.3 218.5C589.1 215.8 588.6 212.8 588.3 209.6C588.0 206.5 587.6 201.2 587.4 199.5" fill="none" stroke="#9b9a94" stroke-width="1.15" stroke-dasharray="3.7 1.6" stroke-linejoin="round"/>
<path d="M607.3 254.6C606.8 255.7 605.5 258.4 604.5 261.0C603.4 263.5 602.4 266.7 600.9 269.8C599.5 273.0 597.4 277.1 595.9 279.9C594.4 282.8 593.7 284.5 592.1 287.0C590.4 289.5 587.7 292.3 586.0 295.0C584.3 297.7 582.7 300.6 582.2 303.0C581.7 305.4 582.7 307.3 583.1 309.7C583.4 312.1 583.8 314.8 584.2 317.4C584.5 320.0 585.3 323.2 585.2 325.2C585.0 327.2 584.1 328.5 583.3 329.6C582.4 330.8 581.2 331.3 579.9 332.1C578.6 332.8 576.7 333.3 575.5 334.1C574.3 334.9 573.2 336.4 572.7 336.9" fill="none" stroke="#9b9a94" stroke-width="1.15" stroke-dasharray="3.7 1.6" stroke-linejoin="round"/>
</g>
</g>
<path d="M441.50 336.60v3.8M479.85 336.60v3.8M518.21 336.60v3.8M556.56 336.60v3.8M594.91 336.60v3.8M441.50 201.35h-3.8M441.50 221.71h-3.8M441.50 248.62h-3.8M441.50 268.98h-3.8M441.50 289.33h-3.8M441.50 316.24h-3.8M441.50 336.60h-3.8" stroke="#000" stroke-width="0.9" fill="none"/>
<rect x="441.5" y="201.35" width="163.0" height="135.25" fill="none" stroke="#000" stroke-width="0.9"/>
<text x="441.50" y="352.80" font-size="11.5" text-anchor="middle">EQ</text>
<text x="479.85" y="352.80" font-size="11.5" text-anchor="middle">20N</text>
<text x="518.21" y="352.80" font-size="11.5" text-anchor="middle">40N</text>
<text x="556.56" y="352.80" font-size="11.5" text-anchor="middle">60N</text>
<text x="594.91" y="352.80" font-size="11.5" text-anchor="middle">80N</text>
<text x="84.25" y="15.80" font-size="16.6" font-weight="bold">a</text>
<text x="101.50" y="11.80" font-size="13.8">Multi-model Mean</text>
<text x="263.90" y="15.80" font-size="16.6" font-weight="bold">b</text>
<text x="327.20" y="11.80" font-size="13.8">Spread</text>
<text x="443.30" y="15.80" font-size="16.6" font-weight="bold">c</text>
<text x="460.70" y="11.80" font-size="13.8">Correlation with <tspan font-style="italic">u</tspan><tspan font-style="italic" font-size="9.7" dy="2.9" dx="0.3">neck,</tspan><tspan font-style="italic" font-size="9.7" dx="1.8">pd</tspan></text>
<text x="84.25" y="198.75" font-size="16.6" font-weight="bold">d</text>
<text x="123.20" y="194.75" font-size="13.8">Strong <tspan font-style="italic">u</tspan><tspan font-style="italic" font-size="9.7" dy="2.9" dx="0.3">neck,</tspan><tspan font-style="italic" font-size="9.7" dx="1.8">pd</tspan></text>
<text x="263.90" y="198.75" font-size="16.6" font-weight="bold">e</text>
<text x="305.70" y="194.75" font-size="13.8">Weak <tspan font-style="italic">u</tspan><tspan font-style="italic" font-size="9.7" dy="2.9" dx="0.3">neck,</tspan><tspan font-style="italic" font-size="9.7" dx="1.8">pd</tspan></text>
<text x="443.30" y="198.75" font-size="16.6" font-weight="bold">f</text>
<text x="460.40" y="194.75" font-size="13.8">Strong - Weak <tspan font-style="italic">u</tspan><tspan font-style="italic" font-size="9.7" dy="2.9" dx="0.3">neck,</tspan><tspan font-style="italic" font-size="9.7" dx="1.8">pd</tspan></text>
<text transform="translate(10.9 182.1) rotate(-90)" font-size="13.85" font-weight="bold" text-anchor="middle">Zonal mean Zonal wind Response</text>
<path d="M619.6 25.17L627.0 19.00L634.4 25.17Z" fill="#8b4b18"/>
<path d="M619.6 148.63L627.0 154.80L634.4 148.63Z" fill="#3d1265"/>
<rect x="619.6" y="25.17" width="14.799999999999955" height="17.94" fill="#c46d1f"/>
<rect x="619.6" y="42.81" width="14.799999999999955" height="17.94" fill="#e6a14c"/>
<rect x="619.6" y="60.45" width="14.799999999999955" height="17.94" fill="#f4daa8"/>
<rect x="619.6" y="78.08" width="14.799999999999955" height="17.94" fill="#f8f8f7"/>
<rect x="619.6" y="95.72" width="14.799999999999955" height="17.94" fill="#d4d4e8"/>
<rect x="619.6" y="113.35" width="14.799999999999955" height="17.94" fill="#a39bc5"/>
<rect x="619.6" y="130.99" width="14.799999999999955" height="17.94" fill="#6f4e9c"/>
<path d="M619.6 25.17L627.0 19.00L634.4 25.17L634.4 148.63L627.0 154.80L619.6 148.63Z" fill="none" stroke="#000" stroke-width="0.9" stroke-linejoin="miter"/>
<text x="642.30" y="29.77" font-size="11.5">0.8</text>
<text x="642.30" y="47.41" font-size="11.5">0.6</text>
<text x="642.30" y="65.05" font-size="11.5">0.4</text>
<text x="642.30" y="82.68" font-size="11.5">0.2</text>
<text x="642.30" y="100.32" font-size="11.5">−0.2</text>
<text x="642.30" y="117.95" font-size="11.5">−0.4</text>
<text x="642.30" y="135.59" font-size="11.5">−0.6</text>
<text x="642.30" y="153.23" font-size="11.5">−0.8</text>
<path d="M634.40 25.17h3.8M634.40 42.81h3.8M634.40 60.45h3.8M634.40 78.08h3.8M634.40 95.72h3.8M634.40 113.35h3.8M634.40 130.99h3.8M634.40 148.63h3.8" stroke="#000" stroke-width="0.9" fill="none"/>
<path d="M619.6 210.20L627.0 204.00L634.4 210.20Z" fill="#6a0f25"/>
<path d="M619.6 334.20L627.0 340.40L634.4 334.20Z" fill="#1b3766"/>
<rect x="619.6" y="210.20" width="14.799999999999955" height="14.08" fill="#8e1728"/>
<rect x="619.6" y="223.98" width="14.799999999999955" height="14.08" fill="#c84a42"/>
<rect x="619.6" y="237.76" width="14.799999999999955" height="14.08" fill="#e39272"/>
<rect x="619.6" y="251.53" width="14.799999999999955" height="14.08" fill="#f3d3bf"/>
<rect x="619.6" y="265.31" width="14.799999999999955" height="14.08" fill="#f7f7f7"/>
<rect x="619.6" y="279.09" width="14.799999999999955" height="14.08" fill="#cfe4ef"/>
<rect x="619.6" y="292.87" width="14.799999999999955" height="14.08" fill="#8ebfdc"/>
<rect x="619.6" y="306.64" width="14.799999999999955" height="14.08" fill="#4b8cc0"/>
<rect x="619.6" y="320.42" width="14.799999999999955" height="14.08" fill="#2b5a94"/>
<path d="M619.6 210.20L627.0 204.00L634.4 210.20L634.4 334.20L627.0 340.40L619.6 334.20Z" fill="none" stroke="#000" stroke-width="0.9" stroke-linejoin="miter"/>
<text x="642.30" y="214.80" font-size="11.5">0.9</text>
<text x="642.30" y="228.58" font-size="11.5">0.7</text>
<text x="642.30" y="242.36" font-size="11.5">0.5</text>
<text x="642.30" y="256.13" font-size="11.5">0.3</text>
<text x="642.30" y="269.91" font-size="11.5">0.1</text>
<text x="642.30" y="283.69" font-size="11.5">−0.1</text>
<text x="642.30" y="297.47" font-size="11.5">−0.3</text>
<text x="642.30" y="311.24" font-size="11.5">−0.5</text>
<text x="642.30" y="325.02" font-size="11.5">−0.7</text>
<text x="642.30" y="338.80" font-size="11.5">−0.9</text>
<path d="M634.40 210.20h3.8M634.40 223.98h3.8M634.40 237.76h3.8M634.40 251.53h3.8M634.40 265.31h3.8M634.40 279.09h3.8M634.40 292.87h3.8M634.40 306.64h3.8M634.40 320.42h3.8M634.40 334.20h3.8" stroke="#000" stroke-width="0.9" fill="none"/>
<text transform="translate(683.5 272.2) rotate(-90)" font-size="11.5" text-anchor="middle">m s<tspan font-size="7.7" dy="-4.2">−1</tspan></text>
</svg></body></html>
